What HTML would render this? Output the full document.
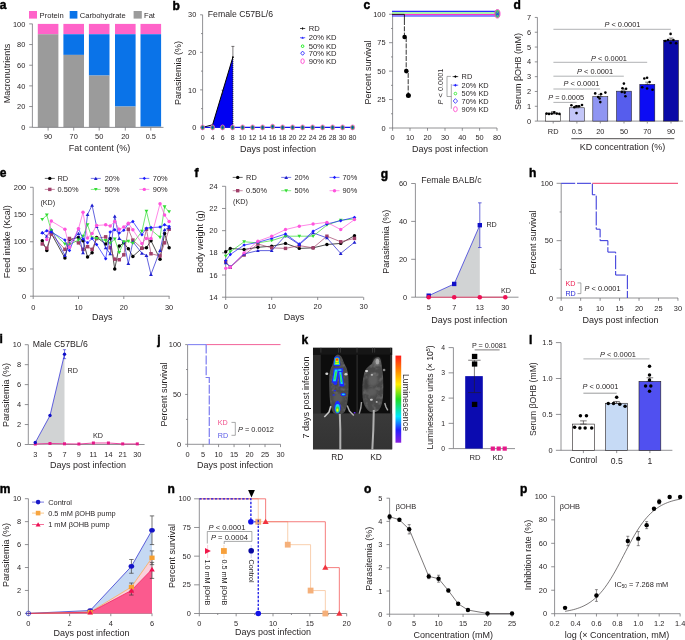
<!DOCTYPE html>
<html><head><meta charset="utf-8"><title>Figure</title>
<style>
html,body{margin:0;padding:0;background:#fff;}
svg{display:block;font-family:"Liberation Sans",sans-serif;will-change:transform;}
</style></head>
<body>
<svg width="685" height="640" viewBox="0 0 685 640">
<rect width="685" height="640" fill="#fff"/>
<g fill="#231f20">
<text x="-0.2" y="9.3" font-size="12.0" font-weight="bold" fill="#000" stroke="#000" stroke-width="0.45">a</text>
<rect x="29" y="11" width="8" height="7.6" fill="#ff63c9" stroke="none" stroke-width="0.6"/>
<text x="39.6" y="17.5" font-size="7.6" text-anchor="start">Protein</text>
<rect x="69.7" y="11" width="7.7" height="7.6" fill="#0a73e8" stroke="none" stroke-width="0.6"/>
<text x="79.7" y="17.5" font-size="7.6" text-anchor="start">Carbohydrate</text>
<rect x="133.6" y="11" width="8.2" height="7.6" fill="#9b9b9b" stroke="none" stroke-width="0.6"/>
<text x="144" y="17.5" font-size="7.6" text-anchor="start">Fat</text>
<rect x="37.8" y="23.9" width="20.6" height="10.33" fill="#ff63c9" stroke="none" stroke-width="0.6"/>
<rect x="37.8" y="34.23" width="20.6" height="0" fill="#0a73e8" stroke="none" stroke-width="0.6"/>
<rect x="37.8" y="34.23" width="20.6" height="92.97" fill="#9b9b9b" stroke="none" stroke-width="0.6"/>
<rect x="63.4" y="23.9" width="20.6" height="10.33" fill="#ff63c9" stroke="none" stroke-width="0.6"/>
<rect x="63.4" y="34.23" width="20.6" height="20.66" fill="#0a73e8" stroke="none" stroke-width="0.6"/>
<rect x="63.4" y="54.89" width="20.6" height="72.31" fill="#9b9b9b" stroke="none" stroke-width="0.6"/>
<rect x="88.9" y="23.9" width="20.6" height="10.33" fill="#ff63c9" stroke="none" stroke-width="0.6"/>
<rect x="88.9" y="34.23" width="20.6" height="41.32" fill="#0a73e8" stroke="none" stroke-width="0.6"/>
<rect x="88.9" y="75.55" width="20.6" height="51.65" fill="#9b9b9b" stroke="none" stroke-width="0.6"/>
<rect x="115" y="23.9" width="20.6" height="10.33" fill="#ff63c9" stroke="none" stroke-width="0.6"/>
<rect x="115" y="34.23" width="20.6" height="72.31" fill="#0a73e8" stroke="none" stroke-width="0.6"/>
<rect x="115" y="106.54" width="20.6" height="20.66" fill="#9b9b9b" stroke="none" stroke-width="0.6"/>
<rect x="140.5" y="23.9" width="20.6" height="10.33" fill="#ff63c9" stroke="none" stroke-width="0.6"/>
<rect x="140.5" y="34.23" width="20.6" height="92.45" fill="#0a73e8" stroke="none" stroke-width="0.6"/>
<rect x="140.5" y="126.68" width="20.6" height="0.52" fill="#9b9b9b" stroke="none" stroke-width="0.6"/>
<line x1="32.4" y1="23.8" x2="32.4" y2="127.4" stroke="#6d6e71" stroke-width="0.75"/>
<line x1="29.2" y1="127.2" x2="32.4" y2="127.2" stroke="#6d6e71" stroke-width="0.75"/>
<text x="25.3" y="129.83" font-size="7.4" text-anchor="end">0</text>
<line x1="29.2" y1="106.54" x2="32.4" y2="106.54" stroke="#6d6e71" stroke-width="0.75"/>
<text x="25.3" y="109.17" font-size="7.4" text-anchor="end">20</text>
<line x1="29.2" y1="85.88" x2="32.4" y2="85.88" stroke="#6d6e71" stroke-width="0.75"/>
<text x="25.3" y="88.51" font-size="7.4" text-anchor="end">40</text>
<line x1="29.2" y1="65.22" x2="32.4" y2="65.22" stroke="#6d6e71" stroke-width="0.75"/>
<text x="25.3" y="67.85" font-size="7.4" text-anchor="end">60</text>
<line x1="29.2" y1="44.56" x2="32.4" y2="44.56" stroke="#6d6e71" stroke-width="0.75"/>
<text x="25.3" y="47.19" font-size="7.4" text-anchor="end">80</text>
<line x1="29.2" y1="23.9" x2="32.4" y2="23.9" stroke="#6d6e71" stroke-width="0.75"/>
<text x="25.3" y="26.53" font-size="7.4" text-anchor="end">100</text>
<line x1="32.4" y1="127.4" x2="163.5" y2="127.4" stroke="#6d6e71" stroke-width="0.75"/>
<text x="48.1" y="139.33" font-size="7.4" text-anchor="middle">90</text>
<line x1="48.1" y1="127.4" x2="48.1" y2="130.6" stroke="#6d6e71" stroke-width="0.75"/>
<text x="73.7" y="139.33" font-size="7.4" text-anchor="middle">70</text>
<line x1="73.7" y1="127.4" x2="73.7" y2="130.6" stroke="#6d6e71" stroke-width="0.75"/>
<text x="99.2" y="139.33" font-size="7.4" text-anchor="middle">50</text>
<line x1="99.2" y1="127.4" x2="99.2" y2="130.6" stroke="#6d6e71" stroke-width="0.75"/>
<text x="125.3" y="139.33" font-size="7.4" text-anchor="middle">20</text>
<line x1="125.3" y1="127.4" x2="125.3" y2="130.6" stroke="#6d6e71" stroke-width="0.75"/>
<text x="150.8" y="139.33" font-size="7.4" text-anchor="middle">0.5</text>
<line x1="150.8" y1="127.4" x2="150.8" y2="130.6" stroke="#6d6e71" stroke-width="0.75"/>
<text x="99.6" y="151.19" font-size="9" text-anchor="middle">Fat content (%)</text>
<text transform="translate(6.4 73.5) rotate(-90)" x="0" y="3.19" font-size="9" text-anchor="middle">Macronutrients</text>
<text x="172.5" y="9.5" font-size="12.0" font-weight="bold" fill="#000" stroke="#000" stroke-width="0.45">b</text>
<polygon points="212.6,124.8 232.9,57.1 232.9,127.4 212.6,127.4" fill="#0000f2" stroke="none" stroke-width="0.5"/>
<polyline points="202.6,127.4 212.6,124.8 232.9,57.1" fill="none" stroke="#000" stroke-width="1.0"/>
<line x1="232.9" y1="57.1" x2="232.9" y2="127.4" stroke="#000" stroke-width="0.9" stroke-dasharray="1.1,0.9"/>
<line x1="232.9" y1="46.4" x2="232.9" y2="57.1" stroke="#231f20" stroke-width="0.6"/>
<line x1="231.4" y1="46.4" x2="234.4" y2="46.4" stroke="#231f20" stroke-width="0.6"/>
<line x1="222.6" y1="90.2" x2="222.6" y2="94.6" stroke="#231f20" stroke-width="0.6"/>
<line x1="221.6" y1="90.2" x2="223.6" y2="90.2" stroke="#231f20" stroke-width="0.6"/>
<circle cx="232.9" cy="57.1" r="0.9" fill="#000" stroke="none" stroke-width="0.6"/>
<line x1="202.6" y1="14.81" x2="202.6" y2="127.4" stroke="#6d6e71" stroke-width="0.75"/>
<line x1="200.1" y1="127.4" x2="202.6" y2="127.4" stroke="#6d6e71" stroke-width="0.75"/>
<text x="196.3" y="130.03" font-size="7.4" text-anchor="end">0</text>
<line x1="200.1" y1="89.87" x2="202.6" y2="89.87" stroke="#6d6e71" stroke-width="0.75"/>
<text x="196.3" y="92.5" font-size="7.4" text-anchor="end">10</text>
<line x1="200.1" y1="52.34" x2="202.6" y2="52.34" stroke="#6d6e71" stroke-width="0.75"/>
<text x="196.3" y="54.97" font-size="7.4" text-anchor="end">20</text>
<line x1="200.1" y1="14.81" x2="202.6" y2="14.81" stroke="#6d6e71" stroke-width="0.75"/>
<text x="196.3" y="17.44" font-size="7.4" text-anchor="end">30</text>
<line x1="201" y1="108.64" x2="202.6" y2="108.64" stroke="#6d6e71" stroke-width="0.75"/>
<line x1="201" y1="71.11" x2="202.6" y2="71.11" stroke="#6d6e71" stroke-width="0.75"/>
<line x1="201" y1="33.58" x2="202.6" y2="33.58" stroke="#6d6e71" stroke-width="0.75"/>
<line x1="202.6" y1="127.4" x2="354" y2="127.4" stroke="#1414e8" stroke-width="1.3"/>
<ellipse cx="202.6" cy="127.4" rx="2.0" ry="2.5" fill="#22d822" stroke="#ff44dd" stroke-width="0.8"/>
<polygon points="201.6,127.4 202.6,125.8 203.6,127.4 202.6,129" fill="#1414e8"/>
<text x="202.6" y="139.89" font-size="7" text-anchor="middle">0</text>
<ellipse cx="212.6" cy="127.4" rx="2.0" ry="2.5" fill="#22d822" stroke="#ff44dd" stroke-width="0.8"/>
<polygon points="211.6,127.4 212.6,125.8 213.6,127.4 212.6,129" fill="#1414e8"/>
<text x="212.6" y="139.89" font-size="7" text-anchor="middle">4</text>
<ellipse cx="222.6" cy="127.4" rx="2.0" ry="2.5" fill="#22d822" stroke="#ff44dd" stroke-width="0.8"/>
<polygon points="221.6,127.4 222.6,125.8 223.6,127.4 222.6,129" fill="#1414e8"/>
<text x="222.6" y="139.89" font-size="7" text-anchor="middle">6</text>
<ellipse cx="232.6" cy="127.4" rx="2.0" ry="2.5" fill="#22d822" stroke="#ff44dd" stroke-width="0.8"/>
<polygon points="231.6,127.4 232.6,125.8 233.6,127.4 232.6,129" fill="#1414e8"/>
<text x="232.6" y="139.89" font-size="7" text-anchor="middle">8</text>
<ellipse cx="242.6" cy="127.4" rx="2.0" ry="2.5" fill="#22d822" stroke="#ff44dd" stroke-width="0.8"/>
<polygon points="241.6,127.4 242.6,125.8 243.6,127.4 242.6,129" fill="#1414e8"/>
<text x="242.6" y="139.89" font-size="7" text-anchor="middle">10</text>
<ellipse cx="252.6" cy="127.4" rx="2.0" ry="2.5" fill="#22d822" stroke="#ff44dd" stroke-width="0.8"/>
<polygon points="251.6,127.4 252.6,125.8 253.6,127.4 252.6,129" fill="#1414e8"/>
<text x="252.6" y="139.89" font-size="7" text-anchor="middle">12</text>
<ellipse cx="262.6" cy="127.4" rx="2.0" ry="2.5" fill="#22d822" stroke="#ff44dd" stroke-width="0.8"/>
<polygon points="261.6,127.4 262.6,125.8 263.6,127.4 262.6,129" fill="#1414e8"/>
<text x="262.6" y="139.89" font-size="7" text-anchor="middle">14</text>
<ellipse cx="272.6" cy="126.7" rx="2.0" ry="2.5" fill="#22d822" stroke="#ff44dd" stroke-width="0.8"/>
<polygon points="271.6,126.7 272.6,125.1 273.6,126.7 272.6,128.3" fill="#1414e8"/>
<text x="272.6" y="139.89" font-size="7" text-anchor="middle">16</text>
<ellipse cx="282.6" cy="127.4" rx="2.0" ry="2.5" fill="#22d822" stroke="#ff44dd" stroke-width="0.8"/>
<polygon points="281.6,127.4 282.6,125.8 283.6,127.4 282.6,129" fill="#1414e8"/>
<text x="282.6" y="139.89" font-size="7" text-anchor="middle">18</text>
<ellipse cx="292.6" cy="127.4" rx="2.0" ry="2.5" fill="#22d822" stroke="#ff44dd" stroke-width="0.8"/>
<polygon points="291.6,127.4 292.6,125.8 293.6,127.4 292.6,129" fill="#1414e8"/>
<text x="292.6" y="139.89" font-size="7" text-anchor="middle">20</text>
<ellipse cx="302.6" cy="127.4" rx="2.0" ry="2.5" fill="#22d822" stroke="#ff44dd" stroke-width="0.8"/>
<polygon points="301.6,127.4 302.6,125.8 303.6,127.4 302.6,129" fill="#1414e8"/>
<text x="302.6" y="139.89" font-size="7" text-anchor="middle">22</text>
<ellipse cx="312.6" cy="127.4" rx="2.0" ry="2.5" fill="#22d822" stroke="#ff44dd" stroke-width="0.8"/>
<polygon points="311.6,127.4 312.6,125.8 313.6,127.4 312.6,129" fill="#1414e8"/>
<text x="312.6" y="139.89" font-size="7" text-anchor="middle">24</text>
<ellipse cx="322.6" cy="127.4" rx="2.0" ry="2.5" fill="#22d822" stroke="#ff44dd" stroke-width="0.8"/>
<polygon points="321.6,127.4 322.6,125.8 323.6,127.4 322.6,129" fill="#1414e8"/>
<text x="322.6" y="139.89" font-size="7" text-anchor="middle">26</text>
<ellipse cx="332.6" cy="127.4" rx="2.0" ry="2.5" fill="#22d822" stroke="#ff44dd" stroke-width="0.8"/>
<polygon points="331.6,127.4 332.6,125.8 333.6,127.4 332.6,129" fill="#1414e8"/>
<text x="332.6" y="139.89" font-size="7" text-anchor="middle">28</text>
<ellipse cx="342.6" cy="127.4" rx="2.0" ry="2.5" fill="#22d822" stroke="#ff44dd" stroke-width="0.8"/>
<polygon points="341.6,127.4 342.6,125.8 343.6,127.4 342.6,129" fill="#1414e8"/>
<text x="342.6" y="139.89" font-size="7" text-anchor="middle">30</text>
<ellipse cx="352.6" cy="127.4" rx="2.0" ry="2.5" fill="#22d822" stroke="#ff44dd" stroke-width="0.8"/>
<polygon points="351.6,127.4 352.6,125.8 353.6,127.4 352.6,129" fill="#1414e8"/>
<text x="352.6" y="139.89" font-size="7" text-anchor="middle">80</text>
<text x="207.8" y="16.59" font-size="8.7" text-anchor="start">Female C57BL/6</text>
<line x1="300" y1="28.5" x2="305.2" y2="28.5" stroke="#000" stroke-width="0.7"/>
<line x1="302.6" y1="27.3" x2="302.6" y2="29.7" stroke="#000" stroke-width="0.9"/>
<line x1="300" y1="37.7" x2="305.2" y2="37.7" stroke="#22f" stroke-width="0.7"/>
<polygon points="301.4,38.66 303.8,38.66 302.6,36.62" fill="#22f" stroke="none" stroke-width="0.5"/>
<circle cx="302.6" cy="46.2" r="1.3" fill="none" stroke="#22ee22" stroke-width="1.0"/>
<polygon points="300.70000000000005,53.2 302.6,51.1 304.5,53.2 302.6,55.300000000000004" fill="none" stroke="#2a2aff" stroke-width="0.9"/>
<ellipse cx="302.6" cy="61.2" rx="1.7" ry="2.4" fill="none" stroke="#ff33cc" stroke-width="0.8"/>
<text x="308.7" y="31.2" font-size="7.6" text-anchor="start">RD</text>
<text x="308.7" y="40.4" font-size="7.6" text-anchor="start">20% KD</text>
<text x="308.7" y="48.9" font-size="7.6" text-anchor="start">50% KD</text>
<text x="308.7" y="55.9" font-size="7.6" text-anchor="start">70% KD</text>
<text x="308.7" y="63.9" font-size="7.6" text-anchor="start">90% KD</text>
<text x="278" y="151.79" font-size="9" text-anchor="middle">Days post infection</text>
<text transform="translate(178 73) rotate(-90)" x="0" y="3.19" font-size="9" text-anchor="middle">Parasitemia (%)</text>
<text x="363.6" y="9" font-size="12.0" font-weight="bold" fill="#000" stroke="#000" stroke-width="0.45">c</text>
<line x1="392.6" y1="14.25" x2="392.6" y2="128" stroke="#6d6e71" stroke-width="0.75"/>
<line x1="389" y1="128" x2="392.6" y2="128" stroke="#6d6e71" stroke-width="0.75"/>
<text x="385.5" y="130.63" font-size="7.4" text-anchor="end">0</text>
<line x1="389" y1="99.56" x2="392.6" y2="99.56" stroke="#6d6e71" stroke-width="0.75"/>
<text x="385.5" y="102.19" font-size="7.4" text-anchor="end">25</text>
<line x1="389" y1="71.12" x2="392.6" y2="71.12" stroke="#6d6e71" stroke-width="0.75"/>
<text x="385.5" y="73.75" font-size="7.4" text-anchor="end">50</text>
<line x1="389" y1="42.69" x2="392.6" y2="42.69" stroke="#6d6e71" stroke-width="0.75"/>
<text x="385.5" y="45.31" font-size="7.4" text-anchor="end">75</text>
<line x1="389" y1="14.25" x2="392.6" y2="14.25" stroke="#6d6e71" stroke-width="0.75"/>
<text x="385.5" y="16.88" font-size="7.4" text-anchor="end">100</text>
<line x1="391" y1="113.78" x2="392.6" y2="113.78" stroke="#6d6e71" stroke-width="0.75"/>
<line x1="391" y1="85.34" x2="392.6" y2="85.34" stroke="#6d6e71" stroke-width="0.75"/>
<line x1="391" y1="56.91" x2="392.6" y2="56.91" stroke="#6d6e71" stroke-width="0.75"/>
<line x1="391" y1="28.47" x2="392.6" y2="28.47" stroke="#6d6e71" stroke-width="0.75"/>
<line x1="392.6" y1="128" x2="497" y2="128" stroke="#6d6e71" stroke-width="0.75"/>
<line x1="392.6" y1="128" x2="392.6" y2="130.8" stroke="#6d6e71" stroke-width="0.75"/>
<text x="392.6" y="139.53" font-size="7.4" text-anchor="middle">0</text>
<line x1="410" y1="128" x2="410" y2="130.8" stroke="#6d6e71" stroke-width="0.75"/>
<text x="410" y="139.53" font-size="7.4" text-anchor="middle">10</text>
<line x1="427.5" y1="128" x2="427.5" y2="130.8" stroke="#6d6e71" stroke-width="0.75"/>
<text x="427.5" y="139.53" font-size="7.4" text-anchor="middle">20</text>
<line x1="445" y1="128" x2="445" y2="130.8" stroke="#6d6e71" stroke-width="0.75"/>
<text x="445" y="139.53" font-size="7.4" text-anchor="middle">30</text>
<line x1="462.3" y1="128" x2="462.3" y2="130.8" stroke="#6d6e71" stroke-width="0.75"/>
<text x="462.3" y="139.53" font-size="7.4" text-anchor="middle">40</text>
<line x1="479.6" y1="128" x2="479.6" y2="130.8" stroke="#6d6e71" stroke-width="0.75"/>
<text x="479.6" y="139.53" font-size="7.4" text-anchor="middle">50</text>
<line x1="497" y1="128" x2="497" y2="130.8" stroke="#6d6e71" stroke-width="0.75"/>
<text x="497" y="139.53" font-size="7.4" text-anchor="middle">80</text>
<line x1="392" y1="11.4" x2="497" y2="11.4" stroke="#2a2aff" stroke-width="1.1"/>
<line x1="392" y1="13" x2="497" y2="13" stroke="#55ee55" stroke-width="1.1"/>
<line x1="392" y1="14.6" x2="497" y2="14.6" stroke="#ff33cc" stroke-width="1.1"/>
<line x1="392" y1="16" x2="497" y2="16" stroke="#2a2aff" stroke-width="1.1"/>
<line x1="392" y1="14.4" x2="404.4" y2="14.4" stroke="#000" stroke-width="0.8"/>
<ellipse cx="497.4" cy="13.8" rx="2.6" ry="4.2" fill="#55ee55" stroke="#ff33cc" stroke-width="0.9"/>
<ellipse cx="497.4" cy="13.8" rx="1.3" ry="2.6" fill="none" stroke="#2a2aff" stroke-width="0.7"/>
<polygon points="496.1,14.84 498.7,14.84 497.4,12.63" fill="#22f" stroke="none" stroke-width="0.5"/>
<line x1="404.4" y1="14.4" x2="404.4" y2="20" stroke="#000" stroke-width="0.8"/>
<polyline points="404.4,20 404.4,37 406.2,37 406.2,71.12 408.2,71.12 408.2,96.15" fill="none" stroke="#000" stroke-width="0.8" stroke-dasharray="5,1.3"/>
<circle cx="404.6" cy="37" r="2.3" fill="#000" stroke="none" stroke-width="0.6"/>
<circle cx="406.3" cy="71.12" r="2.3" fill="#000" stroke="none" stroke-width="0.6"/>
<circle cx="408.4" cy="95.58" r="2.5" fill="#000" stroke="none" stroke-width="0.6"/>
<line x1="447" y1="76.4" x2="447" y2="96.5" stroke="#6d6e71" stroke-width="0.6"/>
<line x1="447" y1="76.4" x2="450.9" y2="76.4" stroke="#6d6e71" stroke-width="0.6"/>
<line x1="447" y1="96.5" x2="451.3" y2="96.5" stroke="#6d6e71" stroke-width="0.6"/>
<line x1="451.3" y1="84.1" x2="451.3" y2="108.8" stroke="#6d6e71" stroke-width="0.6"/>
<text transform="translate(440.5 86.5) rotate(-90)" x="0" y="2.63" font-size="7.4" text-anchor="middle"><tspan font-style="italic">P</tspan> &lt; 0.0001</text>
<line x1="452.6" y1="76.6" x2="458.2" y2="76.6" stroke="#000" stroke-width="0.7"/>
<polygon points="454.0,76.6 455.4,75.19999999999999 456.79999999999995,76.6 455.4,78.0" fill="#000"/>
<line x1="452.6" y1="85.2" x2="458.2" y2="85.2" stroke="#22f" stroke-width="0.7"/>
<polygon points="454.0,85.2 455.4,83.7 456.79999999999995,85.2 455.4,86.7" fill="#22f"/>
<circle cx="455.4" cy="93.6" r="1.3" fill="none" stroke="#44ee44" stroke-width="1.0"/>
<polygon points="453.2,101.0 455.4,98.6 457.59999999999997,101.0 455.4,103.4" fill="none" stroke="#2a2aff" stroke-width="0.8"/>
<ellipse cx="455.4" cy="109.2" rx="1.9" ry="2.5" fill="none" stroke="#ff44cc" stroke-width="0.8"/>
<text x="461.6" y="79.23" font-size="7.4" text-anchor="start">RD</text>
<text x="461.6" y="87.83" font-size="7.4" text-anchor="start">20% KD</text>
<text x="461.6" y="96.23" font-size="7.4" text-anchor="start">50% KD</text>
<text x="461.6" y="103.63" font-size="7.4" text-anchor="start">70% KD</text>
<text x="461.6" y="111.83" font-size="7.4" text-anchor="start">90% KD</text>
<text x="450" y="152" font-size="9" text-anchor="middle">Days post infection</text>
<text transform="translate(367.6 72.5) rotate(-90)" x="0" y="3.19" font-size="9" text-anchor="middle">Percent survival</text>
<text x="513.6" y="9" font-size="12.0" font-weight="bold" fill="#000" stroke="#000" stroke-width="0.45">d</text>
<line x1="537.4" y1="17.43" x2="537.4" y2="121.1" stroke="#6d6e71" stroke-width="0.75"/>
<line x1="534.8" y1="121.1" x2="537.4" y2="121.1" stroke="#6d6e71" stroke-width="0.75"/>
<text x="531.1" y="123.73" font-size="7.4" text-anchor="end">0</text>
<line x1="534.8" y1="106.29" x2="537.4" y2="106.29" stroke="#6d6e71" stroke-width="0.75"/>
<text x="531.1" y="108.92" font-size="7.4" text-anchor="end">1</text>
<line x1="534.8" y1="91.48" x2="537.4" y2="91.48" stroke="#6d6e71" stroke-width="0.75"/>
<text x="531.1" y="94.11" font-size="7.4" text-anchor="end">2</text>
<line x1="534.8" y1="76.67" x2="537.4" y2="76.67" stroke="#6d6e71" stroke-width="0.75"/>
<text x="531.1" y="79.3" font-size="7.4" text-anchor="end">3</text>
<line x1="534.8" y1="61.86" x2="537.4" y2="61.86" stroke="#6d6e71" stroke-width="0.75"/>
<text x="531.1" y="64.49" font-size="7.4" text-anchor="end">4</text>
<line x1="534.8" y1="47.05" x2="537.4" y2="47.05" stroke="#6d6e71" stroke-width="0.75"/>
<text x="531.1" y="49.68" font-size="7.4" text-anchor="end">5</text>
<line x1="534.8" y1="32.24" x2="537.4" y2="32.24" stroke="#6d6e71" stroke-width="0.75"/>
<text x="531.1" y="34.87" font-size="7.4" text-anchor="end">6</text>
<line x1="534.8" y1="17.43" x2="537.4" y2="17.43" stroke="#6d6e71" stroke-width="0.75"/>
<text x="531.1" y="20.06" font-size="7.4" text-anchor="end">7</text>
<line x1="537.4" y1="121.1" x2="683" y2="121.1" stroke="#6d6e71" stroke-width="0.75"/>
<rect x="545.7" y="113.84" width="15" height="7.26" fill="#ffffff" stroke="#231f20" stroke-width="0.55"/>
<line x1="553.2" y1="111.64" x2="553.2" y2="113.84" stroke="#231f20" stroke-width="0.55"/>
<line x1="551" y1="111.64" x2="555.4" y2="111.64" stroke="#231f20" stroke-width="0.55"/>
<line x1="551" y1="113.84" x2="555.4" y2="113.84" stroke="#231f20" stroke-width="0.55"/>
<circle cx="546.6" cy="113.6" r="1.3" fill="#000" stroke="none" stroke-width="0.6"/>
<circle cx="549" cy="113.9" r="1.3" fill="#000" stroke="none" stroke-width="0.6"/>
<circle cx="551.7" cy="113.6" r="1.3" fill="#000" stroke="none" stroke-width="0.6"/>
<circle cx="554.3" cy="112.4" r="1.3" fill="#000" stroke="none" stroke-width="0.6"/>
<circle cx="556.8" cy="113.6" r="1.3" fill="#000" stroke="none" stroke-width="0.6"/>
<circle cx="559.4" cy="113.9" r="1.3" fill="#000" stroke="none" stroke-width="0.6"/>
<rect x="569.4" y="107.77" width="15" height="13.33" fill="#c3c6f8" stroke="#231f20" stroke-width="0.55"/>
<line x1="576.9" y1="105.57" x2="576.9" y2="107.77" stroke="#231f20" stroke-width="0.55"/>
<line x1="574.7" y1="105.57" x2="579.1" y2="105.57" stroke="#231f20" stroke-width="0.55"/>
<line x1="574.7" y1="107.77" x2="579.1" y2="107.77" stroke="#231f20" stroke-width="0.55"/>
<circle cx="571.4" cy="105.3" r="1.3" fill="#000" stroke="none" stroke-width="0.6"/>
<circle cx="574.3" cy="107.2" r="1.3" fill="#000" stroke="none" stroke-width="0.6"/>
<circle cx="576.5" cy="106.2" r="1.3" fill="#000" stroke="none" stroke-width="0.6"/>
<circle cx="579.1" cy="106.2" r="1.3" fill="#000" stroke="none" stroke-width="0.6"/>
<circle cx="582" cy="105" r="1.3" fill="#000" stroke="none" stroke-width="0.6"/>
<circle cx="576.5" cy="113.1" r="1.3" fill="#000" stroke="none" stroke-width="0.6"/>
<rect x="592.8" y="96.66" width="15" height="24.44" fill="#8f95f2" stroke="#231f20" stroke-width="0.55"/>
<line x1="600.3" y1="94.46" x2="600.3" y2="96.66" stroke="#231f20" stroke-width="0.55"/>
<line x1="598.1" y1="94.46" x2="602.5" y2="94.46" stroke="#231f20" stroke-width="0.55"/>
<line x1="598.1" y1="96.66" x2="602.5" y2="96.66" stroke="#231f20" stroke-width="0.55"/>
<circle cx="595.2" cy="93.4" r="1.3" fill="#000" stroke="none" stroke-width="0.6"/>
<circle cx="598.1" cy="97" r="1.3" fill="#000" stroke="none" stroke-width="0.6"/>
<circle cx="601" cy="94.1" r="1.3" fill="#000" stroke="none" stroke-width="0.6"/>
<circle cx="605.4" cy="92.6" r="1.3" fill="#000" stroke="none" stroke-width="0.6"/>
<circle cx="599.6" cy="98.5" r="1.3" fill="#000" stroke="none" stroke-width="0.6"/>
<circle cx="600.3" cy="102.1" r="1.3" fill="#000" stroke="none" stroke-width="0.6"/>
<rect x="616.5" y="91.18" width="15" height="29.92" fill="#565ded" stroke="#231f20" stroke-width="0.55"/>
<line x1="624" y1="88.98" x2="624" y2="91.18" stroke="#231f20" stroke-width="0.55"/>
<line x1="621.8" y1="88.98" x2="626.2" y2="88.98" stroke="#231f20" stroke-width="0.55"/>
<line x1="621.8" y1="91.18" x2="626.2" y2="91.18" stroke="#231f20" stroke-width="0.55"/>
<circle cx="623.9" cy="83.6" r="1.3" fill="#000" stroke="none" stroke-width="0.6"/>
<circle cx="622.5" cy="88.2" r="1.3" fill="#000" stroke="none" stroke-width="0.6"/>
<circle cx="626.1" cy="88.7" r="1.3" fill="#000" stroke="none" stroke-width="0.6"/>
<circle cx="621.8" cy="91.9" r="1.3" fill="#000" stroke="none" stroke-width="0.6"/>
<circle cx="624.7" cy="92.6" r="1.3" fill="#000" stroke="none" stroke-width="0.6"/>
<circle cx="625.4" cy="96.3" r="1.3" fill="#000" stroke="none" stroke-width="0.6"/>
<rect x="639.8" y="84.37" width="15" height="36.73" fill="#0c0cf4" stroke="#231f20" stroke-width="0.55"/>
<line x1="647.3" y1="82.17" x2="647.3" y2="84.37" stroke="#231f20" stroke-width="0.55"/>
<line x1="645.1" y1="82.17" x2="649.5" y2="82.17" stroke="#231f20" stroke-width="0.55"/>
<line x1="645.1" y1="84.37" x2="649.5" y2="84.37" stroke="#231f20" stroke-width="0.55"/>
<circle cx="644.3" cy="78.5" r="1.3" fill="#000" stroke="none" stroke-width="0.6"/>
<circle cx="647.1" cy="77.7" r="1.3" fill="#000" stroke="none" stroke-width="0.6"/>
<circle cx="649.6" cy="82" r="1.3" fill="#000" stroke="none" stroke-width="0.6"/>
<circle cx="642.2" cy="87.2" r="1.3" fill="#000" stroke="none" stroke-width="0.6"/>
<circle cx="647.1" cy="88.5" r="1.3" fill="#000" stroke="none" stroke-width="0.6"/>
<circle cx="652.5" cy="89.7" r="1.3" fill="#000" stroke="none" stroke-width="0.6"/>
<rect x="663.5" y="40.24" width="15" height="80.86" fill="#0a0aa6" stroke="#231f20" stroke-width="0.55"/>
<line x1="671" y1="38.04" x2="671" y2="40.24" stroke="#231f20" stroke-width="0.55"/>
<line x1="668.8" y1="38.04" x2="673.2" y2="38.04" stroke="#231f20" stroke-width="0.55"/>
<line x1="668.8" y1="40.24" x2="673.2" y2="40.24" stroke="#231f20" stroke-width="0.55"/>
<circle cx="670.6" cy="33.9" r="1.3" fill="#000" stroke="none" stroke-width="0.6"/>
<circle cx="665.2" cy="41" r="1.3" fill="#000" stroke="none" stroke-width="0.6"/>
<circle cx="668" cy="40" r="1.3" fill="#000" stroke="none" stroke-width="0.6"/>
<circle cx="670.6" cy="43" r="1.3" fill="#000" stroke="none" stroke-width="0.6"/>
<circle cx="673.4" cy="40" r="1.3" fill="#000" stroke="none" stroke-width="0.6"/>
<circle cx="676.1" cy="43.3" r="1.3" fill="#000" stroke="none" stroke-width="0.6"/>
<text x="553.2" y="134.23" font-size="7.4" text-anchor="middle">RD</text>
<line x1="553.2" y1="121.1" x2="553.2" y2="123.5" stroke="#6d6e71" stroke-width="0.75"/>
<text x="576.9" y="134.23" font-size="7.4" text-anchor="middle">0.5</text>
<line x1="576.9" y1="121.1" x2="576.9" y2="123.5" stroke="#6d6e71" stroke-width="0.75"/>
<text x="600.3" y="134.23" font-size="7.4" text-anchor="middle">20</text>
<line x1="600.3" y1="121.1" x2="600.3" y2="123.5" stroke="#6d6e71" stroke-width="0.75"/>
<text x="624" y="134.23" font-size="7.4" text-anchor="middle">50</text>
<line x1="624" y1="121.1" x2="624" y2="123.5" stroke="#6d6e71" stroke-width="0.75"/>
<text x="647.3" y="134.23" font-size="7.4" text-anchor="middle">70</text>
<line x1="647.3" y1="121.1" x2="647.3" y2="123.5" stroke="#6d6e71" stroke-width="0.75"/>
<text x="671" y="134.23" font-size="7.4" text-anchor="middle">90</text>
<line x1="671" y1="121.1" x2="671" y2="123.5" stroke="#6d6e71" stroke-width="0.75"/>
<line x1="571.3" y1="138.7" x2="674.3" y2="138.7" stroke="#231f20" stroke-width="0.8"/>
<text x="622.4" y="149.59" font-size="9" text-anchor="middle">KD concentration (%)</text>
<text transform="translate(517.7 71.5) rotate(-90)" x="0" y="3.19" font-size="9" text-anchor="middle">Serum βOHB (mM)</text>
<line x1="553.4" y1="29.3" x2="670.8" y2="29.3" stroke="#a7a9ac" stroke-width="0.9"/>
<text x="622.4" y="27.43" font-size="7.4" text-anchor="middle"><tspan font-style="italic">P</tspan> &lt; 0.0001</text>
<line x1="553.4" y1="62.3" x2="647.2" y2="62.3" stroke="#a7a9ac" stroke-width="0.9"/>
<text x="609" y="60.93" font-size="7.4" text-anchor="middle"><tspan font-style="italic">P</tspan> &lt; 0.0001</text>
<line x1="553.4" y1="76.2" x2="623.8" y2="76.2" stroke="#a7a9ac" stroke-width="0.9"/>
<text x="595.1" y="74.13" font-size="7.4" text-anchor="middle"><tspan font-style="italic">P</tspan> &lt; 0.0001</text>
<line x1="553.4" y1="89" x2="600.1" y2="89" stroke="#a7a9ac" stroke-width="0.9"/>
<text x="581.5" y="86.43" font-size="7.4" text-anchor="middle"><tspan font-style="italic">P</tspan> &lt; 0.0001</text>
<line x1="553.4" y1="102.4" x2="576.6" y2="102.4" stroke="#a7a9ac" stroke-width="0.9"/>
<text x="566.2" y="99.93" font-size="7.4" text-anchor="middle"><tspan font-style="italic">P</tspan> = 0.0005</text>
<text x="-0.2" y="176.5" font-size="12.0" font-weight="bold" fill="#000" stroke="#000" stroke-width="0.45">e</text>
<line x1="33.2" y1="187.3" x2="33.2" y2="296.2" stroke="#6d6e71" stroke-width="0.75"/>
<line x1="30" y1="296.2" x2="33.2" y2="296.2" stroke="#6d6e71" stroke-width="0.75"/>
<text x="26.2" y="298.83" font-size="7.4" text-anchor="end">0</text>
<line x1="30" y1="268.97" x2="33.2" y2="268.97" stroke="#6d6e71" stroke-width="0.75"/>
<text x="26.2" y="271.6" font-size="7.4" text-anchor="end">50</text>
<line x1="30" y1="241.75" x2="33.2" y2="241.75" stroke="#6d6e71" stroke-width="0.75"/>
<text x="26.2" y="244.38" font-size="7.4" text-anchor="end">100</text>
<line x1="30" y1="214.52" x2="33.2" y2="214.52" stroke="#6d6e71" stroke-width="0.75"/>
<text x="26.2" y="217.15" font-size="7.4" text-anchor="end">150</text>
<line x1="30" y1="187.3" x2="33.2" y2="187.3" stroke="#6d6e71" stroke-width="0.75"/>
<text x="26.2" y="189.93" font-size="7.4" text-anchor="end">200</text>
<line x1="33.2" y1="296.2" x2="169.5" y2="296.2" stroke="#6d6e71" stroke-width="0.75"/>
<line x1="33.2" y1="296.2" x2="33.2" y2="299" stroke="#6d6e71" stroke-width="0.75"/>
<text x="33.2" y="309.53" font-size="7.4" text-anchor="middle">0</text>
<line x1="78.5" y1="296.2" x2="78.5" y2="299" stroke="#6d6e71" stroke-width="0.75"/>
<text x="78.5" y="309.53" font-size="7.4" text-anchor="middle">10</text>
<line x1="123.8" y1="296.2" x2="123.8" y2="299" stroke="#6d6e71" stroke-width="0.75"/>
<text x="123.8" y="309.53" font-size="7.4" text-anchor="middle">20</text>
<line x1="169.1" y1="296.2" x2="169.1" y2="299" stroke="#6d6e71" stroke-width="0.75"/>
<text x="169.1" y="309.53" font-size="7.4" text-anchor="middle">30</text>
<polyline points="42.26,240.66 46.79,250.46 51.32,233.58 64.91,258.08 69.44,239.57 78.5,237.39 83.03,240.66 87.56,257 92.09,252.64 96.62,237.39 105.68,243.93 110.21,238.48 114.74,268.97 119.27,246.11 123.8,242.84 128.33,248.83 132.86,256.45 141.92,248.28 146.45,247.74 150.98,240.66 160.04,259.17 164.57,233.58 169.1,247.74" fill="none" stroke="#000" stroke-width="0.7"/>
<circle cx="42.26" cy="240.66" r="1.75" fill="#000" stroke="none" stroke-width="0.6"/>
<circle cx="46.79" cy="250.46" r="1.75" fill="#000" stroke="none" stroke-width="0.6"/>
<circle cx="51.32" cy="233.58" r="1.75" fill="#000" stroke="none" stroke-width="0.6"/>
<circle cx="64.91" cy="258.08" r="1.75" fill="#000" stroke="none" stroke-width="0.6"/>
<circle cx="69.44" cy="239.57" r="1.75" fill="#000" stroke="none" stroke-width="0.6"/>
<circle cx="78.5" cy="237.39" r="1.75" fill="#000" stroke="none" stroke-width="0.6"/>
<circle cx="83.03" cy="240.66" r="1.75" fill="#000" stroke="none" stroke-width="0.6"/>
<circle cx="87.56" cy="257" r="1.75" fill="#000" stroke="none" stroke-width="0.6"/>
<circle cx="92.09" cy="252.64" r="1.75" fill="#000" stroke="none" stroke-width="0.6"/>
<circle cx="96.62" cy="237.39" r="1.75" fill="#000" stroke="none" stroke-width="0.6"/>
<circle cx="105.68" cy="243.93" r="1.75" fill="#000" stroke="none" stroke-width="0.6"/>
<circle cx="110.21" cy="238.48" r="1.75" fill="#000" stroke="none" stroke-width="0.6"/>
<circle cx="114.74" cy="268.97" r="1.75" fill="#000" stroke="none" stroke-width="0.6"/>
<circle cx="119.27" cy="246.11" r="1.75" fill="#000" stroke="none" stroke-width="0.6"/>
<circle cx="123.8" cy="242.84" r="1.75" fill="#000" stroke="none" stroke-width="0.6"/>
<circle cx="128.33" cy="248.83" r="1.75" fill="#000" stroke="none" stroke-width="0.6"/>
<circle cx="132.86" cy="256.45" r="1.75" fill="#000" stroke="none" stroke-width="0.6"/>
<circle cx="141.92" cy="248.28" r="1.75" fill="#000" stroke="none" stroke-width="0.6"/>
<circle cx="146.45" cy="247.74" r="1.75" fill="#000" stroke="none" stroke-width="0.6"/>
<circle cx="150.98" cy="240.66" r="1.75" fill="#000" stroke="none" stroke-width="0.6"/>
<circle cx="160.04" cy="259.17" r="1.75" fill="#000" stroke="none" stroke-width="0.6"/>
<circle cx="164.57" cy="233.58" r="1.75" fill="#000" stroke="none" stroke-width="0.6"/>
<circle cx="169.1" cy="247.74" r="1.75" fill="#000" stroke="none" stroke-width="0.6"/>
<polyline points="42.26,243.93 46.79,248.28 51.32,234.13 64.91,249.37 69.44,238.48 78.5,242.84 83.03,249.37 87.56,246.65 92.09,249.37 96.62,238.48 105.68,236.85 110.21,247.74 114.74,259.17 119.27,259.72 123.8,254.82 128.33,229.23 132.86,240.12 141.92,248.28 146.45,229.23 150.98,253.73 160.04,255.91 164.57,242.84 169.1,229.23" fill="none" stroke="#a0406a" stroke-width="0.7"/>
<rect x="40.51" y="242.18" width="3.5" height="3.5" fill="#a0406a" stroke="none" stroke-width="0.6"/>
<rect x="45.04" y="246.53" width="3.5" height="3.5" fill="#a0406a" stroke="none" stroke-width="0.6"/>
<rect x="49.57" y="232.38" width="3.5" height="3.5" fill="#a0406a" stroke="none" stroke-width="0.6"/>
<rect x="63.16" y="247.62" width="3.5" height="3.5" fill="#a0406a" stroke="none" stroke-width="0.6"/>
<rect x="67.69" y="236.73" width="3.5" height="3.5" fill="#a0406a" stroke="none" stroke-width="0.6"/>
<rect x="76.75" y="241.09" width="3.5" height="3.5" fill="#a0406a" stroke="none" stroke-width="0.6"/>
<rect x="81.28" y="247.62" width="3.5" height="3.5" fill="#a0406a" stroke="none" stroke-width="0.6"/>
<rect x="85.81" y="244.9" width="3.5" height="3.5" fill="#a0406a" stroke="none" stroke-width="0.6"/>
<rect x="90.34" y="247.62" width="3.5" height="3.5" fill="#a0406a" stroke="none" stroke-width="0.6"/>
<rect x="94.87" y="236.73" width="3.5" height="3.5" fill="#a0406a" stroke="none" stroke-width="0.6"/>
<rect x="103.93" y="235.1" width="3.5" height="3.5" fill="#a0406a" stroke="none" stroke-width="0.6"/>
<rect x="108.46" y="245.99" width="3.5" height="3.5" fill="#a0406a" stroke="none" stroke-width="0.6"/>
<rect x="112.99" y="257.42" width="3.5" height="3.5" fill="#a0406a" stroke="none" stroke-width="0.6"/>
<rect x="117.52" y="257.97" width="3.5" height="3.5" fill="#a0406a" stroke="none" stroke-width="0.6"/>
<rect x="122.05" y="253.07" width="3.5" height="3.5" fill="#a0406a" stroke="none" stroke-width="0.6"/>
<rect x="126.58" y="227.48" width="3.5" height="3.5" fill="#a0406a" stroke="none" stroke-width="0.6"/>
<rect x="131.11" y="238.37" width="3.5" height="3.5" fill="#a0406a" stroke="none" stroke-width="0.6"/>
<rect x="140.17" y="246.53" width="3.5" height="3.5" fill="#a0406a" stroke="none" stroke-width="0.6"/>
<rect x="144.7" y="227.48" width="3.5" height="3.5" fill="#a0406a" stroke="none" stroke-width="0.6"/>
<rect x="149.23" y="251.98" width="3.5" height="3.5" fill="#a0406a" stroke="none" stroke-width="0.6"/>
<rect x="158.29" y="254.16" width="3.5" height="3.5" fill="#a0406a" stroke="none" stroke-width="0.6"/>
<rect x="162.82" y="241.09" width="3.5" height="3.5" fill="#a0406a" stroke="none" stroke-width="0.6"/>
<rect x="167.35" y="227.48" width="3.5" height="3.5" fill="#a0406a" stroke="none" stroke-width="0.6"/>
<polyline points="42.26,232.49 46.79,236.31 51.32,229.77 64.91,255.36 69.44,243.38 78.5,233.58 83.03,252.64 87.56,214.52 92.09,205.27 96.62,226.5 105.68,247.74 110.21,253.73 114.74,216.16 119.27,238.48 123.8,241.75 128.33,263.53 132.86,241.75 141.92,253.18 146.45,255.36 150.98,274.42 160.04,250.46 164.57,229.77 169.1,227.59" fill="none" stroke="#2020d0" stroke-width="0.7"/>
<polygon points="40.34,234.03 44.19,234.03 42.26,230.76" fill="#2020d0" stroke="none" stroke-width="0.5"/>
<polygon points="44.87,237.84 48.72,237.84 46.79,234.57" fill="#2020d0" stroke="none" stroke-width="0.5"/>
<polygon points="49.4,231.31 53.25,231.31 51.32,228.04" fill="#2020d0" stroke="none" stroke-width="0.5"/>
<polygon points="62.98,256.9 66.83,256.9 64.91,253.63" fill="#2020d0" stroke="none" stroke-width="0.5"/>
<polygon points="67.52,244.92 71.36,244.92 69.44,241.65" fill="#2020d0" stroke="none" stroke-width="0.5"/>
<polygon points="76.58,235.12 80.42,235.12 78.5,231.85" fill="#2020d0" stroke="none" stroke-width="0.5"/>
<polygon points="81.11,254.18 84.95,254.18 83.03,250.91" fill="#2020d0" stroke="none" stroke-width="0.5"/>
<polygon points="85.64,216.06 89.48,216.06 87.56,212.79" fill="#2020d0" stroke="none" stroke-width="0.5"/>
<polygon points="90.17,206.81 94.02,206.81 92.09,203.54" fill="#2020d0" stroke="none" stroke-width="0.5"/>
<polygon points="94.7,228.04 98.55,228.04 96.62,224.77" fill="#2020d0" stroke="none" stroke-width="0.5"/>
<polygon points="103.76,249.28 107.61,249.28 105.68,246.01" fill="#2020d0" stroke="none" stroke-width="0.5"/>
<polygon points="108.29,255.27 112.14,255.27 110.21,252" fill="#2020d0" stroke="none" stroke-width="0.5"/>
<polygon points="112.82,217.7 116.67,217.7 114.74,214.43" fill="#2020d0" stroke="none" stroke-width="0.5"/>
<polygon points="117.35,240.02 121.2,240.02 119.27,236.75" fill="#2020d0" stroke="none" stroke-width="0.5"/>
<polygon points="121.88,243.29 125.73,243.29 123.8,240.02" fill="#2020d0" stroke="none" stroke-width="0.5"/>
<polygon points="126.41,265.07 130.26,265.07 128.33,261.8" fill="#2020d0" stroke="none" stroke-width="0.5"/>
<polygon points="130.94,243.29 134.79,243.29 132.86,240.02" fill="#2020d0" stroke="none" stroke-width="0.5"/>
<polygon points="140,254.72 143.85,254.72 141.92,251.45" fill="#2020d0" stroke="none" stroke-width="0.5"/>
<polygon points="144.52,256.9 148.38,256.9 146.45,253.63" fill="#2020d0" stroke="none" stroke-width="0.5"/>
<polygon points="149.06,275.96 152.91,275.96 150.98,272.69" fill="#2020d0" stroke="none" stroke-width="0.5"/>
<polygon points="158.12,252 161.97,252 160.04,248.73" fill="#2020d0" stroke="none" stroke-width="0.5"/>
<polygon points="162.64,231.31 166.5,231.31 164.57,228.04" fill="#2020d0" stroke="none" stroke-width="0.5"/>
<polygon points="167.18,229.13 171.03,229.13 169.1,225.86" fill="#2020d0" stroke="none" stroke-width="0.5"/>
<polyline points="42.26,219.43 46.79,215.07 51.32,230.86 64.91,243.93 69.44,244.47 78.5,240.12 83.03,236.31 87.56,224.87 92.09,237.94 96.62,238.48 105.68,240.66 110.21,243.38 114.74,239.03 119.27,252.64 123.8,241.75 128.33,241.21 132.86,243.38 141.92,231.4 146.45,211.26 150.98,229.77 160.04,237.39 164.57,206.9 169.1,211.8" fill="none" stroke="#33dd33" stroke-width="0.7"/>
<polygon points="40.34,217.89 44.19,217.89 42.26,221.16" fill="#33dd33" stroke="none" stroke-width="0.5"/>
<polygon points="44.87,213.53 48.72,213.53 46.79,216.8" fill="#33dd33" stroke="none" stroke-width="0.5"/>
<polygon points="49.4,229.32 53.25,229.32 51.32,232.59" fill="#33dd33" stroke="none" stroke-width="0.5"/>
<polygon points="62.98,242.39 66.83,242.39 64.91,245.66" fill="#33dd33" stroke="none" stroke-width="0.5"/>
<polygon points="67.52,242.93 71.36,242.93 69.44,246.2" fill="#33dd33" stroke="none" stroke-width="0.5"/>
<polygon points="76.58,238.58 80.42,238.58 78.5,241.85" fill="#33dd33" stroke="none" stroke-width="0.5"/>
<polygon points="81.11,234.77 84.95,234.77 83.03,238.04" fill="#33dd33" stroke="none" stroke-width="0.5"/>
<polygon points="85.64,223.33 89.48,223.33 87.56,226.6" fill="#33dd33" stroke="none" stroke-width="0.5"/>
<polygon points="90.17,236.4 94.02,236.4 92.09,239.67" fill="#33dd33" stroke="none" stroke-width="0.5"/>
<polygon points="94.7,236.94 98.55,236.94 96.62,240.22" fill="#33dd33" stroke="none" stroke-width="0.5"/>
<polygon points="103.76,239.12 107.61,239.12 105.68,242.39" fill="#33dd33" stroke="none" stroke-width="0.5"/>
<polygon points="108.29,241.84 112.14,241.84 110.21,245.12" fill="#33dd33" stroke="none" stroke-width="0.5"/>
<polygon points="112.82,237.49 116.67,237.49 114.74,240.76" fill="#33dd33" stroke="none" stroke-width="0.5"/>
<polygon points="117.35,251.1 121.2,251.1 119.27,254.37" fill="#33dd33" stroke="none" stroke-width="0.5"/>
<polygon points="121.88,240.21 125.73,240.21 123.8,243.48" fill="#33dd33" stroke="none" stroke-width="0.5"/>
<polygon points="126.41,239.67 130.26,239.67 128.33,242.94" fill="#33dd33" stroke="none" stroke-width="0.5"/>
<polygon points="130.94,241.84 134.79,241.84 132.86,245.12" fill="#33dd33" stroke="none" stroke-width="0.5"/>
<polygon points="140,229.86 143.85,229.86 141.92,233.14" fill="#33dd33" stroke="none" stroke-width="0.5"/>
<polygon points="144.52,209.72 148.38,209.72 146.45,212.99" fill="#33dd33" stroke="none" stroke-width="0.5"/>
<polygon points="149.06,228.23 152.91,228.23 150.98,231.5" fill="#33dd33" stroke="none" stroke-width="0.5"/>
<polygon points="158.12,235.85 161.97,235.85 160.04,239.13" fill="#33dd33" stroke="none" stroke-width="0.5"/>
<polygon points="162.64,205.36 166.5,205.36 164.57,208.63" fill="#33dd33" stroke="none" stroke-width="0.5"/>
<polygon points="167.18,210.26 171.03,210.26 169.1,213.53" fill="#33dd33" stroke="none" stroke-width="0.5"/>
<polyline points="42.26,233.04 46.79,230.86 51.32,231.95 64.91,240.12 69.44,250.46 78.5,228.68 83.03,239.03 87.56,242.84 92.09,238.48 96.62,244.47 105.68,258.63 110.21,231.95 114.74,229.77 119.27,233.04 123.8,230.32 128.33,223.78 132.86,221.6 141.92,234.67 146.45,228.14 150.98,227.59 160.04,227.05 164.57,224.87 169.1,226.5" fill="none" stroke="#1a1aff" stroke-width="0.7"/>
<polygon points="40.51,233.04 42.26,231.29 44.01,233.04 42.26,234.79" fill="#1a1aff"/>
<polygon points="45.04,230.86 46.79,229.11 48.54,230.86 46.79,232.61" fill="#1a1aff"/>
<polygon points="49.57,231.95 51.32,230.2 53.07,231.95 51.32,233.7" fill="#1a1aff"/>
<polygon points="63.16,240.12 64.91,238.37 66.66,240.12 64.91,241.87" fill="#1a1aff"/>
<polygon points="67.69,250.46 69.44,248.71 71.19,250.46 69.44,252.21" fill="#1a1aff"/>
<polygon points="76.75,228.68 78.5,226.93 80.25,228.68 78.5,230.43" fill="#1a1aff"/>
<polygon points="81.28,239.03 83.03,237.28 84.78,239.03 83.03,240.78" fill="#1a1aff"/>
<polygon points="85.81,242.84 87.56,241.09 89.31,242.84 87.56,244.59" fill="#1a1aff"/>
<polygon points="90.34,238.48 92.09,236.73 93.84,238.48 92.09,240.23" fill="#1a1aff"/>
<polygon points="94.87,244.47 96.62,242.72 98.37,244.47 96.62,246.22" fill="#1a1aff"/>
<polygon points="103.93,258.63 105.68,256.88 107.43,258.63 105.68,260.38" fill="#1a1aff"/>
<polygon points="108.46,231.95 110.21,230.2 111.96,231.95 110.21,233.7" fill="#1a1aff"/>
<polygon points="112.99,229.77 114.74,228.02 116.49,229.77 114.74,231.52" fill="#1a1aff"/>
<polygon points="117.52,233.04 119.27,231.29 121.02,233.04 119.27,234.79" fill="#1a1aff"/>
<polygon points="122.05,230.32 123.8,228.57 125.55,230.32 123.8,232.07" fill="#1a1aff"/>
<polygon points="126.58,223.78 128.33,222.03 130.08,223.78 128.33,225.53" fill="#1a1aff"/>
<polygon points="131.11,221.6 132.86,219.85 134.61,221.6 132.86,223.35" fill="#1a1aff"/>
<polygon points="140.17,234.67 141.92,232.92 143.67,234.67 141.92,236.42" fill="#1a1aff"/>
<polygon points="144.7,228.14 146.45,226.39 148.2,228.14 146.45,229.89" fill="#1a1aff"/>
<polygon points="149.23,227.59 150.98,225.84 152.73,227.59 150.98,229.34" fill="#1a1aff"/>
<polygon points="158.29,227.05 160.04,225.3 161.79,227.05 160.04,228.8" fill="#1a1aff"/>
<polygon points="162.82,224.87 164.57,223.12 166.32,224.87 164.57,226.62" fill="#1a1aff"/>
<polygon points="167.35,226.5 169.1,224.75 170.85,226.5 169.1,228.25" fill="#1a1aff"/>
<polyline points="46.79,239.57 51.32,221.06 64.91,229.23 69.44,247.19 78.5,228.68 83.03,212.35 87.56,237.94 92.09,233.58 96.62,225.41 105.68,224.87 110.21,225.96 114.74,221.6 119.27,229.23 123.8,227.05 128.33,223.24 132.86,229.77 141.92,243.38 146.45,238.48 150.98,238.48 160.04,203.63 164.57,215.07 169.1,221.6" fill="none" stroke="#ff55dd" stroke-width="0.7"/>
<circle cx="46.79" cy="239.57" r="1.75" fill="#ff55dd" stroke="none" stroke-width="0.6"/>
<circle cx="51.32" cy="221.06" r="1.75" fill="#ff55dd" stroke="none" stroke-width="0.6"/>
<circle cx="64.91" cy="229.23" r="1.75" fill="#ff55dd" stroke="none" stroke-width="0.6"/>
<circle cx="69.44" cy="247.19" r="1.75" fill="#ff55dd" stroke="none" stroke-width="0.6"/>
<circle cx="78.5" cy="228.68" r="1.75" fill="#ff55dd" stroke="none" stroke-width="0.6"/>
<circle cx="83.03" cy="212.35" r="1.75" fill="#ff55dd" stroke="none" stroke-width="0.6"/>
<circle cx="87.56" cy="237.94" r="1.75" fill="#ff55dd" stroke="none" stroke-width="0.6"/>
<circle cx="92.09" cy="233.58" r="1.75" fill="#ff55dd" stroke="none" stroke-width="0.6"/>
<circle cx="96.62" cy="225.41" r="1.75" fill="#ff55dd" stroke="none" stroke-width="0.6"/>
<circle cx="105.68" cy="224.87" r="1.75" fill="#ff55dd" stroke="none" stroke-width="0.6"/>
<circle cx="110.21" cy="225.96" r="1.75" fill="#ff55dd" stroke="none" stroke-width="0.6"/>
<circle cx="114.74" cy="221.6" r="1.75" fill="#ff55dd" stroke="none" stroke-width="0.6"/>
<circle cx="119.27" cy="229.23" r="1.75" fill="#ff55dd" stroke="none" stroke-width="0.6"/>
<circle cx="123.8" cy="227.05" r="1.75" fill="#ff55dd" stroke="none" stroke-width="0.6"/>
<circle cx="128.33" cy="223.24" r="1.75" fill="#ff55dd" stroke="none" stroke-width="0.6"/>
<circle cx="132.86" cy="229.77" r="1.75" fill="#ff55dd" stroke="none" stroke-width="0.6"/>
<circle cx="141.92" cy="243.38" r="1.75" fill="#ff55dd" stroke="none" stroke-width="0.6"/>
<circle cx="146.45" cy="238.48" r="1.75" fill="#ff55dd" stroke="none" stroke-width="0.6"/>
<circle cx="150.98" cy="238.48" r="1.75" fill="#ff55dd" stroke="none" stroke-width="0.6"/>
<circle cx="160.04" cy="203.63" r="1.75" fill="#ff55dd" stroke="none" stroke-width="0.6"/>
<circle cx="164.57" cy="215.07" r="1.75" fill="#ff55dd" stroke="none" stroke-width="0.6"/>
<circle cx="169.1" cy="221.6" r="1.75" fill="#ff55dd" stroke="none" stroke-width="0.6"/>
<text x="40.4" y="204.56" font-size="7.2" text-anchor="start">(KD)</text>
<line x1="44.8" y1="178.4" x2="54.8" y2="178.4" stroke="#000" stroke-width="0.6"/>
<circle cx="49.8" cy="178.4" r="1.7" fill="#000" stroke="none" stroke-width="0.6"/>
<text x="57.5" y="181.03" font-size="7.4" text-anchor="start">RD</text>
<line x1="90.8" y1="178.4" x2="100.8" y2="178.4" stroke="#2020d0" stroke-width="0.6"/>
<polygon points="93.93,179.9 97.67,179.9 95.8,176.72" fill="#2020d0" stroke="none" stroke-width="0.5"/>
<text x="104.7" y="181.03" font-size="7.4" text-anchor="start">20%</text>
<line x1="139.3" y1="178.4" x2="149.3" y2="178.4" stroke="#1a1aff" stroke-width="0.6"/>
<polygon points="142.6,178.4 144.3,176.7 146,178.4 144.3,180.1" fill="#1a1aff"/>
<text x="152.8" y="181.03" font-size="7.4" text-anchor="start">70%</text>
<line x1="44.8" y1="189.4" x2="54.8" y2="189.4" stroke="#a0406a" stroke-width="0.6"/>
<rect x="48.1" y="187.7" width="3.4" height="3.4" fill="#a0406a" stroke="none" stroke-width="0.6"/>
<text x="57.5" y="192.03" font-size="7.4" text-anchor="start">0.50%</text>
<line x1="90.8" y1="189.4" x2="100.8" y2="189.4" stroke="#33dd33" stroke-width="0.6"/>
<polygon points="93.93,187.9 97.67,187.9 95.8,191.08" fill="#33dd33" stroke="none" stroke-width="0.5"/>
<text x="104.7" y="192.03" font-size="7.4" text-anchor="start">50%</text>
<line x1="139.3" y1="189.4" x2="149.3" y2="189.4" stroke="#ff55dd" stroke-width="0.6"/>
<circle cx="144.3" cy="189.4" r="1.7" fill="#ff55dd" stroke="none" stroke-width="0.6"/>
<text x="152.8" y="192.03" font-size="7.4" text-anchor="start">90%</text>
<text x="102.2" y="319.59" font-size="9" text-anchor="middle">Days</text>
<text transform="translate(6.4 241.8) rotate(-90)" x="0" y="3.19" font-size="9" text-anchor="middle">Feed intake (Kcal)</text>
<text x="194.6" y="176.5" font-size="12.0" font-weight="bold" fill="#000" stroke="#000" stroke-width="0.45">f</text>
<line x1="225.7" y1="186.3" x2="225.7" y2="297.2" stroke="#6d6e71" stroke-width="0.75"/>
<line x1="222" y1="297.2" x2="225.7" y2="297.2" stroke="#6d6e71" stroke-width="0.75"/>
<text x="217.5" y="299.83" font-size="7.4" text-anchor="end">14</text>
<line x1="222" y1="275.02" x2="225.7" y2="275.02" stroke="#6d6e71" stroke-width="0.75"/>
<text x="217.5" y="277.65" font-size="7.4" text-anchor="end">16</text>
<line x1="222" y1="252.84" x2="225.7" y2="252.84" stroke="#6d6e71" stroke-width="0.75"/>
<text x="217.5" y="255.47" font-size="7.4" text-anchor="end">18</text>
<line x1="222" y1="230.66" x2="225.7" y2="230.66" stroke="#6d6e71" stroke-width="0.75"/>
<text x="217.5" y="233.29" font-size="7.4" text-anchor="end">20</text>
<line x1="222" y1="208.48" x2="225.7" y2="208.48" stroke="#6d6e71" stroke-width="0.75"/>
<text x="217.5" y="211.11" font-size="7.4" text-anchor="end">22</text>
<line x1="222" y1="186.3" x2="225.7" y2="186.3" stroke="#6d6e71" stroke-width="0.75"/>
<text x="217.5" y="188.93" font-size="7.4" text-anchor="end">24</text>
<line x1="225.7" y1="297.2" x2="363.3" y2="297.2" stroke="#6d6e71" stroke-width="0.75"/>
<line x1="225.7" y1="297.2" x2="225.7" y2="300" stroke="#6d6e71" stroke-width="0.75"/>
<text x="225.7" y="309.23" font-size="7.4" text-anchor="middle">0</text>
<line x1="271.7" y1="297.2" x2="271.7" y2="300" stroke="#6d6e71" stroke-width="0.75"/>
<text x="271.7" y="309.23" font-size="7.4" text-anchor="middle">10</text>
<line x1="317.7" y1="297.2" x2="317.7" y2="300" stroke="#6d6e71" stroke-width="0.75"/>
<text x="317.7" y="309.23" font-size="7.4" text-anchor="middle">20</text>
<line x1="363.7" y1="297.2" x2="363.7" y2="300" stroke="#6d6e71" stroke-width="0.75"/>
<text x="363.7" y="309.23" font-size="7.4" text-anchor="middle">30</text>
<polyline points="225.7,251.73 230.3,248.4 244.1,249.51 257.9,247.29 271.7,246.19 285.5,243.41 299.3,248.4 313.1,247.85 326.9,244.52 340.7,243.41 354.5,235.65" fill="none" stroke="#000" stroke-width="0.7"/>
<circle cx="225.7" cy="251.73" r="1.7" fill="#000" stroke="none" stroke-width="0.6"/>
<circle cx="230.3" cy="248.4" r="1.7" fill="#000" stroke="none" stroke-width="0.6"/>
<circle cx="244.1" cy="249.51" r="1.7" fill="#000" stroke="none" stroke-width="0.6"/>
<circle cx="257.9" cy="247.29" r="1.7" fill="#000" stroke="none" stroke-width="0.6"/>
<circle cx="271.7" cy="246.19" r="1.7" fill="#000" stroke="none" stroke-width="0.6"/>
<circle cx="285.5" cy="243.41" r="1.7" fill="#000" stroke="none" stroke-width="0.6"/>
<circle cx="299.3" cy="248.4" r="1.7" fill="#000" stroke="none" stroke-width="0.6"/>
<circle cx="313.1" cy="247.85" r="1.7" fill="#000" stroke="none" stroke-width="0.6"/>
<circle cx="326.9" cy="244.52" r="1.7" fill="#000" stroke="none" stroke-width="0.6"/>
<circle cx="340.7" cy="243.41" r="1.7" fill="#000" stroke="none" stroke-width="0.6"/>
<circle cx="354.5" cy="235.65" r="1.7" fill="#000" stroke="none" stroke-width="0.6"/>
<polyline points="225.7,261.71 230.3,267.26 244.1,255.06 257.9,243.97 271.7,247.85 285.5,248.4 299.3,245.63 313.1,247.85 326.9,236.2 340.7,241.75 354.5,238.42" fill="none" stroke="#a0406a" stroke-width="0.7"/>
<rect x="224" y="260.01" width="3.4" height="3.4" fill="#a0406a" stroke="none" stroke-width="0.6"/>
<rect x="228.6" y="265.56" width="3.4" height="3.4" fill="#a0406a" stroke="none" stroke-width="0.6"/>
<rect x="242.4" y="253.36" width="3.4" height="3.4" fill="#a0406a" stroke="none" stroke-width="0.6"/>
<rect x="256.2" y="242.27" width="3.4" height="3.4" fill="#a0406a" stroke="none" stroke-width="0.6"/>
<rect x="270" y="246.15" width="3.4" height="3.4" fill="#a0406a" stroke="none" stroke-width="0.6"/>
<rect x="283.8" y="246.7" width="3.4" height="3.4" fill="#a0406a" stroke="none" stroke-width="0.6"/>
<rect x="297.6" y="243.93" width="3.4" height="3.4" fill="#a0406a" stroke="none" stroke-width="0.6"/>
<rect x="311.4" y="246.15" width="3.4" height="3.4" fill="#a0406a" stroke="none" stroke-width="0.6"/>
<rect x="325.2" y="234.5" width="3.4" height="3.4" fill="#a0406a" stroke="none" stroke-width="0.6"/>
<rect x="339" y="240.05" width="3.4" height="3.4" fill="#a0406a" stroke="none" stroke-width="0.6"/>
<rect x="352.8" y="236.72" width="3.4" height="3.4" fill="#a0406a" stroke="none" stroke-width="0.6"/>
<polyline points="225.7,262.82 230.3,266.7 244.1,253.95 257.9,250.62 271.7,250.62 285.5,235.65 299.3,244.52 313.1,232.88 326.9,237.87 340.7,253.39 354.5,242.3" fill="none" stroke="#2020d0" stroke-width="0.7"/>
<polygon points="223.83,264.32 227.57,264.32 225.7,261.14" fill="#2020d0" stroke="none" stroke-width="0.5"/>
<polygon points="228.43,268.2 232.17,268.2 230.3,265.02" fill="#2020d0" stroke="none" stroke-width="0.5"/>
<polygon points="242.23,255.45 245.97,255.45 244.1,252.27" fill="#2020d0" stroke="none" stroke-width="0.5"/>
<polygon points="256.03,252.12 259.77,252.12 257.9,248.94" fill="#2020d0" stroke="none" stroke-width="0.5"/>
<polygon points="269.83,252.12 273.57,252.12 271.7,248.94" fill="#2020d0" stroke="none" stroke-width="0.5"/>
<polygon points="283.63,237.15 287.37,237.15 285.5,233.97" fill="#2020d0" stroke="none" stroke-width="0.5"/>
<polygon points="297.43,246.02 301.17,246.02 299.3,242.84" fill="#2020d0" stroke="none" stroke-width="0.5"/>
<polygon points="311.23,234.37 314.97,234.37 313.1,231.19" fill="#2020d0" stroke="none" stroke-width="0.5"/>
<polygon points="325.03,239.36 328.77,239.36 326.9,236.19" fill="#2020d0" stroke="none" stroke-width="0.5"/>
<polygon points="338.83,254.89 342.57,254.89 340.7,251.71" fill="#2020d0" stroke="none" stroke-width="0.5"/>
<polygon points="352.63,243.8 356.37,243.8 354.5,240.62" fill="#2020d0" stroke="none" stroke-width="0.5"/>
<polyline points="225.7,256.17 230.3,251.73 244.1,241.75 257.9,242.86 271.7,240.64 285.5,236.2 299.3,236.2 313.1,236.2 326.9,225.12 340.7,220.12 354.5,219.02" fill="none" stroke="#33dd33" stroke-width="0.7"/>
<polygon points="223.83,254.67 227.57,254.67 225.7,257.85" fill="#33dd33" stroke="none" stroke-width="0.5"/>
<polygon points="228.43,250.23 232.17,250.23 230.3,253.41" fill="#33dd33" stroke="none" stroke-width="0.5"/>
<polygon points="242.23,240.25 245.97,240.25 244.1,243.43" fill="#33dd33" stroke="none" stroke-width="0.5"/>
<polygon points="256.03,241.36 259.77,241.36 257.9,244.54" fill="#33dd33" stroke="none" stroke-width="0.5"/>
<polygon points="269.83,239.14 273.57,239.14 271.7,242.32" fill="#33dd33" stroke="none" stroke-width="0.5"/>
<polygon points="283.63,234.71 287.37,234.71 285.5,237.89" fill="#33dd33" stroke="none" stroke-width="0.5"/>
<polygon points="297.43,234.71 301.17,234.71 299.3,237.89" fill="#33dd33" stroke="none" stroke-width="0.5"/>
<polygon points="311.23,234.71 314.97,234.71 313.1,237.89" fill="#33dd33" stroke="none" stroke-width="0.5"/>
<polygon points="325.03,223.62 328.77,223.62 326.9,226.8" fill="#33dd33" stroke="none" stroke-width="0.5"/>
<polygon points="338.83,218.63 342.57,218.63 340.7,221.81" fill="#33dd33" stroke="none" stroke-width="0.5"/>
<polygon points="352.63,217.52 356.37,217.52 354.5,220.7" fill="#33dd33" stroke="none" stroke-width="0.5"/>
<polyline points="225.7,260.6 230.3,254.5 244.1,245.08 257.9,242.3 271.7,238.42 285.5,233.99 299.3,243.97 313.1,231.21 326.9,224.01 340.7,220.68 354.5,217.35" fill="none" stroke="#1a1aff" stroke-width="0.7"/>
<polygon points="224,260.6 225.7,258.9 227.4,260.6 225.7,262.3" fill="#1a1aff"/>
<polygon points="228.6,254.5 230.3,252.8 232,254.5 230.3,256.2" fill="#1a1aff"/>
<polygon points="242.4,245.08 244.1,243.38 245.8,245.08 244.1,246.78" fill="#1a1aff"/>
<polygon points="256.2,242.3 257.9,240.6 259.6,242.3 257.9,244" fill="#1a1aff"/>
<polygon points="270,238.42 271.7,236.72 273.4,238.42 271.7,240.12" fill="#1a1aff"/>
<polygon points="283.8,233.99 285.5,232.29 287.2,233.99 285.5,235.69" fill="#1a1aff"/>
<polygon points="297.6,243.97 299.3,242.27 301,243.97 299.3,245.67" fill="#1a1aff"/>
<polygon points="311.4,231.21 313.1,229.51 314.8,231.21 313.1,232.91" fill="#1a1aff"/>
<polygon points="325.2,224.01 326.9,222.31 328.6,224.01 326.9,225.71" fill="#1a1aff"/>
<polygon points="339,220.68 340.7,218.98 342.4,220.68 340.7,222.38" fill="#1a1aff"/>
<polygon points="352.8,217.35 354.5,215.65 356.2,217.35 354.5,219.05" fill="#1a1aff"/>
<polyline points="225.7,268.37 230.3,267.26 244.1,252.84 257.9,241.2 271.7,236.2 285.5,229.55 299.3,226.22 313.1,224.01 326.9,222.34 340.7,229.55 354.5,219.57" fill="none" stroke="#ff55dd" stroke-width="0.7"/>
<circle cx="225.7" cy="268.37" r="1.7" fill="#ff55dd" stroke="none" stroke-width="0.6"/>
<circle cx="230.3" cy="267.26" r="1.7" fill="#ff55dd" stroke="none" stroke-width="0.6"/>
<circle cx="244.1" cy="252.84" r="1.7" fill="#ff55dd" stroke="none" stroke-width="0.6"/>
<circle cx="257.9" cy="241.2" r="1.7" fill="#ff55dd" stroke="none" stroke-width="0.6"/>
<circle cx="271.7" cy="236.2" r="1.7" fill="#ff55dd" stroke="none" stroke-width="0.6"/>
<circle cx="285.5" cy="229.55" r="1.7" fill="#ff55dd" stroke="none" stroke-width="0.6"/>
<circle cx="299.3" cy="226.22" r="1.7" fill="#ff55dd" stroke="none" stroke-width="0.6"/>
<circle cx="313.1" cy="224.01" r="1.7" fill="#ff55dd" stroke="none" stroke-width="0.6"/>
<circle cx="326.9" cy="222.34" r="1.7" fill="#ff55dd" stroke="none" stroke-width="0.6"/>
<circle cx="340.7" cy="229.55" r="1.7" fill="#ff55dd" stroke="none" stroke-width="0.6"/>
<circle cx="354.5" cy="219.57" r="1.7" fill="#ff55dd" stroke="none" stroke-width="0.6"/>
<text x="233.1" y="204.16" font-size="7.2" text-anchor="start">(KD)</text>
<line x1="232.7" y1="177.4" x2="242.7" y2="177.4" stroke="#000" stroke-width="0.6"/>
<circle cx="237.7" cy="177.4" r="1.7" fill="#000" stroke="none" stroke-width="0.6"/>
<text x="246.1" y="180.03" font-size="7.4" text-anchor="start">RD</text>
<line x1="281.2" y1="177.4" x2="291.2" y2="177.4" stroke="#2020d0" stroke-width="0.6"/>
<polygon points="284.33,178.9 288.07,178.9 286.2,175.72" fill="#2020d0" stroke="none" stroke-width="0.5"/>
<text x="294.4" y="180.03" font-size="7.4" text-anchor="start">20%</text>
<line x1="329.5" y1="177.4" x2="339.5" y2="177.4" stroke="#1a1aff" stroke-width="0.6"/>
<polygon points="332.8,177.4 334.5,175.7 336.2,177.4 334.5,179.1" fill="#1a1aff"/>
<text x="342.5" y="180.03" font-size="7.4" text-anchor="start">70%</text>
<line x1="232.7" y1="190.7" x2="242.7" y2="190.7" stroke="#a0406a" stroke-width="0.6"/>
<rect x="236" y="189" width="3.4" height="3.4" fill="#a0406a" stroke="none" stroke-width="0.6"/>
<text x="246.1" y="193.33" font-size="7.4" text-anchor="start">0.50%</text>
<line x1="281.2" y1="190.7" x2="291.2" y2="190.7" stroke="#33dd33" stroke-width="0.6"/>
<polygon points="284.33,189.2 288.07,189.2 286.2,192.38" fill="#33dd33" stroke="none" stroke-width="0.5"/>
<text x="294.4" y="193.33" font-size="7.4" text-anchor="start">50%</text>
<line x1="329.5" y1="190.7" x2="339.5" y2="190.7" stroke="#ff55dd" stroke-width="0.6"/>
<circle cx="334.5" cy="190.7" r="1.7" fill="#ff55dd" stroke="none" stroke-width="0.6"/>
<text x="342.5" y="193.33" font-size="7.4" text-anchor="start">90%</text>
<text x="293.9" y="319.59" font-size="9" text-anchor="middle">Days</text>
<text transform="translate(199.4 241.8) rotate(-90)" x="0" y="3.19" font-size="9" text-anchor="middle">Body weight (g)</text>
<text x="380.7" y="178" font-size="12.0" font-weight="bold" fill="#000" stroke="#000" stroke-width="0.45">g</text>
<line x1="415.4" y1="183.5" x2="415.4" y2="297.2" stroke="#6d6e71" stroke-width="0.75"/>
<line x1="411.2" y1="297.2" x2="415.4" y2="297.2" stroke="#6d6e71" stroke-width="0.75"/>
<text x="407.2" y="299.83" font-size="7.4" text-anchor="end">0</text>
<line x1="411.2" y1="259.3" x2="415.4" y2="259.3" stroke="#6d6e71" stroke-width="0.75"/>
<text x="407.2" y="261.93" font-size="7.4" text-anchor="end">20</text>
<line x1="411.2" y1="221.4" x2="415.4" y2="221.4" stroke="#6d6e71" stroke-width="0.75"/>
<text x="407.2" y="224.03" font-size="7.4" text-anchor="end">40</text>
<line x1="411.2" y1="183.5" x2="415.4" y2="183.5" stroke="#6d6e71" stroke-width="0.75"/>
<text x="407.2" y="186.13" font-size="7.4" text-anchor="end">60</text>
<line x1="415.4" y1="297.2" x2="518.5" y2="297.2" stroke="#6d6e71" stroke-width="0.75"/>
<polygon points="428.7,295.68 454.2,283.94 479.8,225.19 479.8,297.2 428.7,297.2" fill="#d1d3d4" stroke="none" stroke-width="0.5"/>
<line x1="428.7" y1="297.2" x2="505.3" y2="297.2" stroke="#ee2255" stroke-width="0.8"/>
<polyline points="428.7,295.68 454.2,283.94 479.8,225.19" fill="none" stroke="#2424d8" stroke-width="0.7"/>
<line x1="479.8" y1="202.83" x2="479.8" y2="247.55" stroke="#2a2ac8" stroke-width="0.7"/>
<line x1="478" y1="202.83" x2="481.6" y2="202.83" stroke="#2a2ac8" stroke-width="0.7"/>
<line x1="478" y1="247.55" x2="481.6" y2="247.55" stroke="#2a2ac8" stroke-width="0.7"/>
<rect x="426.5" y="293.48" width="4.4" height="4.4" fill="#1010c8" stroke="none" stroke-width="0.6"/>
<rect x="452" y="281.74" width="4.4" height="4.4" fill="#1010c8" stroke="none" stroke-width="0.6"/>
<rect x="477.6" y="222.99" width="4.4" height="4.4" fill="#1010c8" stroke="none" stroke-width="0.6"/>
<circle cx="428.7" cy="297.2" r="2.3" fill="#ee1155" stroke="none" stroke-width="0.6"/>
<circle cx="454.2" cy="297.2" r="2.3" fill="#ee1155" stroke="none" stroke-width="0.6"/>
<circle cx="479.8" cy="297.2" r="2.3" fill="#ee1155" stroke="none" stroke-width="0.6"/>
<circle cx="505.3" cy="297.2" r="2.3" fill="#ee1155" stroke="none" stroke-width="0.6"/>
<text x="428.7" y="309.53" font-size="7.4" text-anchor="middle">5</text>
<text x="454.2" y="309.53" font-size="7.4" text-anchor="middle">7</text>
<text x="479.8" y="309.53" font-size="7.4" text-anchor="middle">13</text>
<text x="505.3" y="309.53" font-size="7.4" text-anchor="middle">30</text>
<text x="421.2" y="183.49" font-size="8.7" text-anchor="start">Female BALB/c</text>
<text x="486.4" y="227.16" font-size="7.2" text-anchor="start">RD</text>
<text x="501" y="292.86" font-size="7.2" text-anchor="start">KD</text>
<text transform="translate(385.5 241.8) rotate(-90)" x="0" y="3.19" font-size="9" text-anchor="middle">Parasitemia (%)</text>
<text x="469.2" y="322.89" font-size="9" text-anchor="middle">Days post infection</text>
<text x="528.9" y="176.6" font-size="12.0" font-weight="bold" fill="#000" stroke="#000" stroke-width="0.45">h</text>
<line x1="561.2" y1="183.3" x2="561.2" y2="298" stroke="#6d6e71" stroke-width="0.75"/>
<line x1="556.6" y1="298" x2="561.2" y2="298" stroke="#6d6e71" stroke-width="0.75"/>
<text x="553" y="300.63" font-size="7.4" text-anchor="end">0</text>
<line x1="556.6" y1="240.65" x2="561.2" y2="240.65" stroke="#6d6e71" stroke-width="0.75"/>
<text x="553" y="243.28" font-size="7.4" text-anchor="end">50</text>
<line x1="556.6" y1="183.3" x2="561.2" y2="183.3" stroke="#6d6e71" stroke-width="0.75"/>
<text x="553" y="185.93" font-size="7.4" text-anchor="end">100</text>
<line x1="559.6" y1="269.32" x2="561.2" y2="269.32" stroke="#6d6e71" stroke-width="0.75"/>
<line x1="559.6" y1="211.97" x2="561.2" y2="211.97" stroke="#6d6e71" stroke-width="0.75"/>
<line x1="561.2" y1="298" x2="678" y2="298" stroke="#6d6e71" stroke-width="0.75"/>
<line x1="561.2" y1="298" x2="561.2" y2="300.8" stroke="#6d6e71" stroke-width="0.75"/>
<text x="561.2" y="310.63" font-size="7.4" text-anchor="middle">0</text>
<line x1="580.66" y1="298" x2="580.66" y2="300.8" stroke="#6d6e71" stroke-width="0.75"/>
<text x="580.66" y="310.63" font-size="7.4" text-anchor="middle">5</text>
<line x1="600.11" y1="298" x2="600.11" y2="300.8" stroke="#6d6e71" stroke-width="0.75"/>
<text x="600.11" y="310.63" font-size="7.4" text-anchor="middle">10</text>
<line x1="619.57" y1="298" x2="619.57" y2="300.8" stroke="#6d6e71" stroke-width="0.75"/>
<text x="619.57" y="310.63" font-size="7.4" text-anchor="middle">15</text>
<line x1="639.02" y1="298" x2="639.02" y2="300.8" stroke="#6d6e71" stroke-width="0.75"/>
<text x="639.02" y="310.63" font-size="7.4" text-anchor="middle">20</text>
<line x1="658.48" y1="298" x2="658.48" y2="300.8" stroke="#6d6e71" stroke-width="0.75"/>
<text x="658.48" y="310.63" font-size="7.4" text-anchor="middle">25</text>
<line x1="677.93" y1="298" x2="677.93" y2="300.8" stroke="#6d6e71" stroke-width="0.75"/>
<text x="677.93" y="310.63" font-size="7.4" text-anchor="middle">30</text>
<line x1="592.33" y1="183.3" x2="678" y2="183.3" stroke="#ee2255" stroke-width="0.9"/>
<polyline points="561.2,183.3 592.33,183.3 592.33,194.77 596.22,194.77 596.22,229.18 600.11,229.18 600.11,240.65 607.89,240.65 607.89,252.12 615.67,252.12 615.67,275.06 627.35,275.06 627.35,298" fill="none" stroke="#2e2ed8" stroke-width="1.0" stroke-dasharray="14,1.8"/>
<text x="565.4" y="285.86" font-size="7.2" text-anchor="start" fill="#ee2255">KD</text>
<text x="565.4" y="295.76" font-size="7.2" text-anchor="start" fill="#2b2bd6">RD</text>
<polyline points="577.5,282.9 580.9,282.9 580.9,293.6 577.5,293.6" fill="none" stroke="#6d6e71" stroke-width="0.6"/>
<text x="584.6" y="290.93" font-size="7.4" text-anchor="start"><tspan font-style="italic">P</tspan> &lt; 0.0001</text>
<text transform="translate(532.9 242.5) rotate(-90)" x="0" y="3.19" font-size="9" text-anchor="middle">Percent survival</text>
<text x="620.5" y="322.89" font-size="9" text-anchor="middle">Days post infection</text>
<text x="-0.5" y="343.4" font-size="12.0" font-weight="bold" fill="#000" stroke="#000" stroke-width="0.45">i</text>
<line x1="28.3" y1="344.7" x2="28.3" y2="444.5" stroke="#6d6e71" stroke-width="0.75"/>
<line x1="24.8" y1="444.5" x2="28.3" y2="444.5" stroke="#6d6e71" stroke-width="0.75"/>
<text x="21" y="447.13" font-size="7.4" text-anchor="end">0</text>
<line x1="24.8" y1="424.54" x2="28.3" y2="424.54" stroke="#6d6e71" stroke-width="0.75"/>
<text x="21" y="427.17" font-size="7.4" text-anchor="end">2</text>
<line x1="24.8" y1="404.58" x2="28.3" y2="404.58" stroke="#6d6e71" stroke-width="0.75"/>
<text x="21" y="407.21" font-size="7.4" text-anchor="end">4</text>
<line x1="24.8" y1="384.62" x2="28.3" y2="384.62" stroke="#6d6e71" stroke-width="0.75"/>
<text x="21" y="387.25" font-size="7.4" text-anchor="end">6</text>
<line x1="24.8" y1="364.66" x2="28.3" y2="364.66" stroke="#6d6e71" stroke-width="0.75"/>
<text x="21" y="367.29" font-size="7.4" text-anchor="end">8</text>
<line x1="24.8" y1="344.7" x2="28.3" y2="344.7" stroke="#6d6e71" stroke-width="0.75"/>
<text x="21" y="347.33" font-size="7.4" text-anchor="end">10</text>
<line x1="28.3" y1="444.5" x2="144.6" y2="444.5" stroke="#6d6e71" stroke-width="0.75"/>
<polygon points="35.3,442.5 50,415.56 64.5,354.18 64.5,444.5 35.3,444.5" fill="#d1d3d4" stroke="none" stroke-width="0.5"/>
<polyline points="35.3,444 50,443.5 64.5,443.8 78.9,444 93.4,443 108.4,443 122.7,443.9 137.3,443.9" fill="none" stroke="#e6198a" stroke-width="0.8"/>
<rect x="33.8" y="442.5" width="3" height="3" fill="#e6198a" stroke="none" stroke-width="0.6"/>
<rect x="48.5" y="442" width="3" height="3" fill="#e6198a" stroke="none" stroke-width="0.6"/>
<rect x="63" y="442.3" width="3" height="3" fill="#e6198a" stroke="none" stroke-width="0.6"/>
<rect x="77.4" y="442.5" width="3" height="3" fill="#e6198a" stroke="none" stroke-width="0.6"/>
<rect x="91.9" y="441.5" width="3" height="3" fill="#e6198a" stroke="none" stroke-width="0.6"/>
<rect x="106.9" y="441.5" width="3" height="3" fill="#e6198a" stroke="none" stroke-width="0.6"/>
<rect x="121.2" y="442.4" width="3" height="3" fill="#e6198a" stroke="none" stroke-width="0.6"/>
<rect x="135.8" y="442.4" width="3" height="3" fill="#e6198a" stroke="none" stroke-width="0.6"/>
<polyline points="35.3,442.5 50,415.56 64.5,354.18" fill="none" stroke="#2424d8" stroke-width="0.7"/>
<line x1="64.5" y1="349.69" x2="64.5" y2="358.67" stroke="#2424d8" stroke-width="0.6"/>
<line x1="62.9" y1="349.69" x2="66.1" y2="349.69" stroke="#2424d8" stroke-width="0.6"/>
<line x1="62.9" y1="358.67" x2="66.1" y2="358.67" stroke="#2424d8" stroke-width="0.6"/>
<circle cx="35.3" cy="442.5" r="1.7" fill="#1010c8" stroke="none" stroke-width="0.6"/>
<circle cx="50" cy="415.56" r="1.7" fill="#1010c8" stroke="none" stroke-width="0.6"/>
<circle cx="64.5" cy="354.18" r="1.7" fill="#1010c8" stroke="none" stroke-width="0.6"/>
<text x="35.3" y="456.93" font-size="7.4" text-anchor="middle">3</text>
<text x="50" y="456.93" font-size="7.4" text-anchor="middle">5</text>
<text x="64.5" y="456.93" font-size="7.4" text-anchor="middle">7</text>
<text x="78.9" y="456.93" font-size="7.4" text-anchor="middle">9</text>
<text x="93.4" y="456.93" font-size="7.4" text-anchor="middle">11</text>
<text x="108.4" y="456.93" font-size="7.4" text-anchor="middle">14</text>
<text x="122.7" y="456.93" font-size="7.4" text-anchor="middle">21</text>
<text x="137.3" y="456.93" font-size="7.4" text-anchor="middle">30</text>
<text x="32.8" y="347.19" font-size="8.7" text-anchor="start">Male C57BL/6</text>
<text x="67.6" y="372.56" font-size="7.2" text-anchor="start">RD</text>
<text x="92.9" y="438.06" font-size="7.2" text-anchor="start">KD</text>
<text x="88" y="468.3" font-size="9" text-anchor="middle">Days post infection</text>
<text transform="translate(5.7 395) rotate(-90)" x="0" y="3.19" font-size="9" text-anchor="middle">Parasitemia (%)</text>
<text x="157.3" y="344" font-size="12.0" font-weight="bold" fill="#000" stroke="#000" stroke-width="0.45">j</text>
<line x1="187.6" y1="344.6" x2="187.6" y2="444.3" stroke="#6d6e71" stroke-width="0.75"/>
<line x1="185.2" y1="444.3" x2="187.6" y2="444.3" stroke="#6d6e71" stroke-width="0.75"/>
<text x="181.2" y="446.93" font-size="7.4" text-anchor="end">0</text>
<line x1="185.2" y1="394.45" x2="187.6" y2="394.45" stroke="#6d6e71" stroke-width="0.75"/>
<text x="181.2" y="397.08" font-size="7.4" text-anchor="end">50</text>
<line x1="185.2" y1="344.6" x2="187.6" y2="344.6" stroke="#6d6e71" stroke-width="0.75"/>
<text x="181.2" y="347.23" font-size="7.4" text-anchor="end">100</text>
<line x1="186" y1="419.38" x2="187.6" y2="419.38" stroke="#6d6e71" stroke-width="0.75"/>
<line x1="186" y1="369.52" x2="187.6" y2="369.52" stroke="#6d6e71" stroke-width="0.75"/>
<line x1="187.6" y1="444.3" x2="280.5" y2="444.3" stroke="#6d6e71" stroke-width="0.75"/>
<line x1="187.6" y1="444.3" x2="187.6" y2="447.1" stroke="#6d6e71" stroke-width="0.75"/>
<text x="187.6" y="456.73" font-size="7.4" text-anchor="middle">0</text>
<line x1="203.08" y1="444.3" x2="203.08" y2="447.1" stroke="#6d6e71" stroke-width="0.75"/>
<text x="203.08" y="456.73" font-size="7.4" text-anchor="middle">5</text>
<line x1="218.57" y1="444.3" x2="218.57" y2="447.1" stroke="#6d6e71" stroke-width="0.75"/>
<text x="218.57" y="456.73" font-size="7.4" text-anchor="middle">10</text>
<line x1="234.06" y1="444.3" x2="234.06" y2="447.1" stroke="#6d6e71" stroke-width="0.75"/>
<text x="234.06" y="456.73" font-size="7.4" text-anchor="middle">15</text>
<line x1="249.54" y1="444.3" x2="249.54" y2="447.1" stroke="#6d6e71" stroke-width="0.75"/>
<text x="249.54" y="456.73" font-size="7.4" text-anchor="middle">20</text>
<line x1="265.02" y1="444.3" x2="265.02" y2="447.1" stroke="#6d6e71" stroke-width="0.75"/>
<text x="265.02" y="456.73" font-size="7.4" text-anchor="middle">25</text>
<line x1="280.51" y1="444.3" x2="280.51" y2="447.1" stroke="#6d6e71" stroke-width="0.75"/>
<text x="280.51" y="456.73" font-size="7.4" text-anchor="middle">30</text>
<line x1="206.18" y1="344.6" x2="280.5" y2="344.6" stroke="#f0508c" stroke-width="0.9"/>
<line x1="187.6" y1="344.6" x2="206.18" y2="344.6" stroke="#8585f2" stroke-width="1.1"/>
<polyline points="206.18,344.6 206.18,377.5 209.28,377.5 209.28,444.3" fill="none" stroke="#7b7bf0" stroke-width="1.2" stroke-dasharray="9,1.8"/>
<text x="217.8" y="424.96" font-size="7.2" text-anchor="start" fill="#f0508c">KD</text>
<text x="217.8" y="437.86" font-size="7.2" text-anchor="start" fill="#5a5ae6">RD</text>
<polyline points="231.5,422.4 235.3,422.4 235.3,435.3 231.5,435.3" fill="none" stroke="#6d6e71" stroke-width="0.6"/>
<text x="238" y="432.33" font-size="7.4" text-anchor="start"><tspan font-style="italic">P</tspan> = 0.0012</text>
<text x="235" y="468.19" font-size="9" text-anchor="middle">Days post infection</text>
<text transform="translate(164 394.4) rotate(-90)" x="0" y="3.19" font-size="9" text-anchor="middle">Percent survival</text>
<text x="301.6" y="344" font-size="12.0" font-weight="bold" fill="#000" stroke="#000" stroke-width="0.45">k</text>
<text transform="translate(305.7 397.5) rotate(-90)" x="0" y="3.19" font-size="9" text-anchor="middle">7 days post infection</text>
<defs><filter id="bl1" x="-50%" y="-50%" width="200%" height="200%"><feGaussianBlur stdDeviation="0.7"/></filter><filter id="bl2" x="-50%" y="-50%" width="200%" height="200%"><feGaussianBlur stdDeviation="0.38"/></filter><filter id="bl3" x="-50%" y="-50%" width="200%" height="200%"><feGaussianBlur stdDeviation="1.2"/></filter><clipPath id="kc"><rect x="312.9" y="347.6" width="79.5" height="102"/></clipPath><linearGradient id="fl" x1="0" y1="0" x2="0" y2="1"><stop offset="0" stop-color="#3a3a3a"/><stop offset="1" stop-color="#333"/></linearGradient></defs>
<g clip-path="url(#kc)">
<rect x="312.9" y="347.6" width="79.5" height="102" fill="#2d2d2d" stroke="none" stroke-width="0.6"/>
<rect x="312.9" y="347.6" width="79.5" height="7.4" fill="#161616" stroke="none" stroke-width="0.6"/>
<rect x="320.5" y="347.6" width="0.8" height="5" fill="#3d3d3d" stroke="none" stroke-width="0.6"/>
<rect x="338.2" y="347.6" width="0.8" height="5" fill="#3d3d3d" stroke="none" stroke-width="0.6"/>
<rect x="340" y="347.6" width="0.8" height="5" fill="#3d3d3d" stroke="none" stroke-width="0.6"/>
<rect x="356.6" y="347.6" width="0.8" height="5" fill="#3d3d3d" stroke="none" stroke-width="0.6"/>
<rect x="372.2" y="347.6" width="0.8" height="5" fill="#3d3d3d" stroke="none" stroke-width="0.6"/>
<rect x="374.3" y="347.6" width="0.8" height="5" fill="#3d3d3d" stroke="none" stroke-width="0.6"/>
<rect x="390" y="347.6" width="0.8" height="5" fill="#3d3d3d" stroke="none" stroke-width="0.6"/>
<g filter="url(#bl1)">
<rect x="320.8" y="354.8" width="35.8" height="58.8" fill="#111" stroke="none" stroke-width="0.6"/>
<rect x="357.8" y="354.8" width="32.2" height="58.8" fill="#111" stroke="none" stroke-width="0.6"/>
</g>
<rect x="312.9" y="413.6" width="79.5" height="36" fill="url(#fl)" stroke="none" stroke-width="0.6"/>
<g filter="url(#bl1)">
<path d="M335,356.5 C333.5,359 333.2,363 332,366 C329.5,370 329,376 329.2,386 C329.4,397 330,406 332.5,411.5 C334.5,415.5 342.5,415.5 344.8,411.5 C347.5,406 348.5,397 348.6,386 C348.7,376 348,370 345.5,366 C343.8,363 342.8,359 341.2,356.5 C339.5,354.3 336.5,354.3 335,356.5 Z" fill="#4a4a4a"/>
<path d="M378,357 C375,358 373,361 371.5,364 C368,366.5 365,369 364,374 C362.5,380 362.2,390 362.6,397 C363,404 366,409 369.5,411.5 C372.5,413 376.5,412.5 379,410 C382,406 383,400 383.2,393 C383.4,385 383.3,377 382.5,371 C381.8,366 381.5,362 380.5,359.5 C379.8,357.5 379,356.8 378,357 Z" fill="#484848"/>
</g>
<defs><filter id="tx" x="0" y="0" width="100%" height="100%"><feTurbulence type="fractalNoise" baseFrequency="0.22" numOctaves="2" seed="5"/><feColorMatrix type="matrix" values="0 0 0 0 1  0 0 0 0 1  0 0 0 0 1  1.6 0 0 0 -0.75"/><feComposite in2="SourceGraphic" operator="in"/></filter><clipPath id="mc"><path d="M335,356.5 C333.5,359 333.2,363 332,366 C329.5,370 329,376 329.2,386 C329.4,397 330,406 332.5,411.5 C334.5,415.5 342.5,415.5 344.8,411.5 C347.5,406 348.5,397 348.6,386 C348.7,376 348,370 345.5,366 C343.8,363 342.8,359 341.2,356.5 C339.5,354.3 336.5,354.3 335,356.5 Z"/><path d="M378,357 C375,358 373,361 371.5,364 C368,366.5 365,369 364,374 C362.5,380 362.2,390 362.6,397 C363,404 366,409 369.5,411.5 C372.5,413 376.5,412.5 379,410 C382,406 383,400 383.2,393 C383.4,385 383.3,377 382.5,371 C381.8,366 381.5,362 380.5,359.5 C379.8,357.5 379,356.8 378,357 Z"/></clipPath></defs>
<g clip-path="url(#mc)"><rect x="325" y="352" width="62" height="66" fill="#fff" filter="url(#tx)" opacity="0.3"/></g>
<g filter="url(#bl3)">
<ellipse cx="338" cy="372" rx="5" ry="4" fill="#5e5e5e"/>
<ellipse cx="338" cy="398" rx="5" ry="5" fill="#5a5a5a"/>
<ellipse cx="373" cy="380" rx="5" ry="6" fill="#5f5f5f"/>
<ellipse cx="377" cy="362" rx="3" ry="4" fill="#7a7a7a"/>
<ellipse cx="372" cy="392" rx="5" ry="4" fill="#5c5c5c"/>
<ellipse cx="366" cy="384" rx="2.5" ry="6" fill="#3e3e3e"/>
</g>
<g filter="url(#bl2)">
<ellipse cx="326.8" cy="373.8" rx="1.5" ry="1.2" fill="#d0d0d0"/>
<ellipse cx="345.9" cy="374.3" rx="1.5" ry="1.2" fill="#d0d0d0"/>
<ellipse cx="366.6" cy="371.1" rx="1.6" ry="1.1" fill="#dadada"/>
<ellipse cx="371.9" cy="374.8" rx="1.2" ry="0.9" fill="#c0c0c0"/>
<ellipse cx="384.1" cy="370" rx="1.3" ry="1.3" fill="#8a8a8a"/>
<ellipse cx="377.4" cy="361.5" rx="1.8" ry="2.8" fill="#a8a8a8"/>
<ellipse cx="371.4" cy="399.8" rx="1.5" ry="1.0" fill="#d0d0d0"/>
<ellipse cx="376.7" cy="401.9" rx="1.0" ry="0.9" fill="#b8b8b8"/>
<polyline points="330.8,406 329,412 324.3,417" fill="none" stroke="#c8c8c8" stroke-width="1.5"/>
<polyline points="347.2,405.5 349.5,411 353.8,415.5" fill="none" stroke="#b0b0b0" stroke-width="1.4"/>
<polyline points="361.5,402 360.8,408 359.2,413.6" fill="none" stroke="#a0a0a0" stroke-width="1.4"/>
<polyline points="384.7,403 386,407 387.8,410.4" fill="none" stroke="#a8a8a8" stroke-width="1.4"/>
<polyline points="339.8,414 340.3,430 340.3,450" fill="none" stroke="#b0b0b0" stroke-width="2.0"/>
<polyline points="373.8,410 373.3,430 372.3,450" fill="none" stroke="#b0b0b0" stroke-width="2.0"/>
</g>
<g filter="url(#bl2)">
<path d="M334.2,358 C334.5,356 339.5,356 339.8,358 L340.4,365.5 C340.4,366.5 333.6,366.5 333.6,365.5 Z" fill="#1f2aff"/>
<path d="M334.8,358.6 C335,357 339,357 339.2,358.6 L339.7,365 L334.3,365 Z" fill="#12d6f0"/>
<path d="M335.3,359 C335.5,357.7 338.5,357.7 338.7,359 L339.1,364.5 L334.9,364.5 Z" fill="#3ee63a"/>
<path d="M335.7,359 C336,358 338,358 338.3,359 L338.5,362.3 L335.5,362.3 Z" fill="#f2ee10"/>
<ellipse cx="337" cy="359.6" rx="1.3" ry="1.6" fill="#ff8c10"/>
<ellipse cx="337" cy="359.4" rx="0.8" ry="1.0" fill="#ff2a10"/>
<rect x="335.3" y="363.0" width="3.6" height="0.9" fill="#f2ee10"/>
<path d="M333.8,368.2 L343.0,368.2 L343.2,372.3 L339.0,372.6 L337.2,382.8 L331.6,382.8 Z" fill="#1f2aff"/>
<path d="M338.2,370.6 L342.0,370.6 L344.4,386.2 L339.6,386.2 Z" fill="#1f2aff"/>
<path d="M334.8,369.4 L337.8,369.4 L335.8,381.2 L333.0,381.2 Z" fill="#12d6f0"/>
<path d="M339.3,372.0 L341.3,372.0 L342.9,384.0 L340.6,384.0 Z" fill="#12d6f0"/>
<path d="M335.4,371.5 L336.9,371.5 L335.4,379.5 L334.0,379.5 Z" fill="#3ee63a"/>
<path d="M339.9,374.5 L340.9,374.5 L342.0,382 L341.0,382 Z" fill="#3ee63a"/>
<rect x="338.2" y="369.3" width="3.2" height="1.6" fill="#12d6f0"/>
<ellipse cx="335.3" cy="383.6" rx="1.9" ry="1.4" fill="#1f2aff"/>
<ellipse cx="342.3" cy="385.2" rx="1.6" ry="1.3" fill="#1f2aff"/>
<ellipse cx="334.8" cy="390.8" rx="1.3" ry="0.8" fill="#1f2aff"/>
<ellipse cx="333.7" cy="395.0" rx="1.3" ry="0.8" fill="#1f2aff"/>
<ellipse cx="343.2" cy="394.5" rx="2.8" ry="1.7" fill="#1f2aff"/>
<ellipse cx="343.4" cy="394.3" rx="1.6" ry="0.9" fill="#12d6f0"/>
<ellipse cx="337.5" cy="407.2" rx="3.2" ry="6.4" fill="#1f2aff"/>
<ellipse cx="337.6" cy="408.4" rx="2.3" ry="4.4" fill="#12d6f0"/>
<ellipse cx="337.5" cy="409.5" rx="1.7" ry="2.9" fill="#3ee63a"/>
<ellipse cx="337.4" cy="410.0" rx="1.0" ry="1.6" fill="#f2ee10"/>
<ellipse cx="354.6" cy="412.8" rx="1.0" ry="0.8" fill="#6a2aff"/>
</g>
</g>
<defs><linearGradient id="cb" x1="0" y1="0" x2="0" y2="1"><stop offset="0" stop-color="#ff1a1a"/><stop offset="0.18" stop-color="#ff8c00"/><stop offset="0.33" stop-color="#ffee00"/><stop offset="0.5" stop-color="#22dd22"/><stop offset="0.7" stop-color="#00e5ff"/><stop offset="0.85" stop-color="#2222ff"/><stop offset="1" stop-color="#8a20e0"/></linearGradient></defs>
<rect x="395.5" y="355.6" width="5.7" height="87.1" fill="url(#cb)" stroke="none" stroke-width="0.6"/>
<text transform="translate(406.4 402.5) rotate(90)" x="0" y="3.16" font-size="8.9" text-anchor="middle">Luminescence</text>
<text x="337.2" y="460.38" font-size="8.4" text-anchor="middle">RD</text>
<text x="376" y="460.38" font-size="8.4" text-anchor="middle">KD</text>
<line x1="453.4" y1="347.6" x2="453.4" y2="448.6" stroke="#6d6e71" stroke-width="0.75"/>
<line x1="448.6" y1="448.6" x2="453.4" y2="448.6" stroke="#6d6e71" stroke-width="0.75"/>
<text x="445.1" y="451.01" font-size="6.8" text-anchor="end">0</text>
<line x1="448.6" y1="423.35" x2="453.4" y2="423.35" stroke="#6d6e71" stroke-width="0.75"/>
<text x="445.1" y="425.76" font-size="6.8" text-anchor="end">1</text>
<line x1="448.6" y1="398.1" x2="453.4" y2="398.1" stroke="#6d6e71" stroke-width="0.75"/>
<text x="445.1" y="400.51" font-size="6.8" text-anchor="end">2</text>
<line x1="448.6" y1="372.85" x2="453.4" y2="372.85" stroke="#6d6e71" stroke-width="0.75"/>
<text x="445.1" y="375.26" font-size="6.8" text-anchor="end">3</text>
<line x1="448.6" y1="347.6" x2="453.4" y2="347.6" stroke="#6d6e71" stroke-width="0.75"/>
<text x="445.1" y="350.01" font-size="6.8" text-anchor="end">4</text>
<line x1="453.4" y1="448.6" x2="515" y2="448.6" stroke="#6d6e71" stroke-width="0.75"/>
<rect x="465.2" y="376.13" width="17.6" height="72.47" fill="#0b0bb0" stroke="none" stroke-width="0.6"/>
<line x1="474.4" y1="360.23" x2="474.4" y2="392.55" stroke="#231f20" stroke-width="0.6"/>
<line x1="468.2" y1="360.23" x2="480.6" y2="360.23" stroke="#231f20" stroke-width="0.6"/>
<line x1="468.2" y1="392.55" x2="480.6" y2="392.55" stroke="#231f20" stroke-width="0.6"/>
<rect x="471.9" y="353.84" width="5.4" height="5.2" fill="#000" stroke="none" stroke-width="0.6"/>
<rect x="471.9" y="361.41" width="5.4" height="5.2" fill="#000" stroke="none" stroke-width="0.6"/>
<rect x="471.9" y="401.81" width="5.4" height="5.2" fill="#000" stroke="none" stroke-width="0.6"/>
<rect x="490.7" y="446.5" width="4.2" height="4.2" fill="#e6198a" stroke="none" stroke-width="0.6"/>
<rect x="496.6" y="446.5" width="4.2" height="4.2" fill="#e6198a" stroke="none" stroke-width="0.6"/>
<rect x="502.6" y="446.5" width="4.2" height="4.2" fill="#e6198a" stroke="none" stroke-width="0.6"/>
<text x="475.1" y="460.13" font-size="7.7" text-anchor="middle">RD</text>
<text x="497.8" y="460.13" font-size="7.7" text-anchor="middle">KD</text>
<line x1="474.7" y1="349.9" x2="499.6" y2="349.9" stroke="#231f20" stroke-width="0.6"/>
<text x="489.3" y="347.96" font-size="7.2" text-anchor="middle">P = 0.0081</text>
<text transform="translate(430.1 397.4) rotate(-90)" x="0" y="3.1" font-size="8.6" text-anchor="middle">Luminescence units (× 10<tspan font-size="5.5" dy="-3">5</tspan><tspan dy="3">)</tspan></text>
<text x="529.1" y="343.8" font-size="12.0" font-weight="bold" fill="#000" stroke="#000" stroke-width="0.45">l</text>
<line x1="561" y1="342.6" x2="561" y2="450.3" stroke="#6d6e71" stroke-width="0.75"/>
<line x1="555.9" y1="450.3" x2="561" y2="450.3" stroke="#6d6e71" stroke-width="0.75"/>
<text x="552.6" y="452.93" font-size="7.4" text-anchor="end">0</text>
<line x1="555.9" y1="414.4" x2="561" y2="414.4" stroke="#6d6e71" stroke-width="0.75"/>
<text x="552.6" y="417.03" font-size="7.4" text-anchor="end">0.5</text>
<line x1="555.9" y1="378.5" x2="561" y2="378.5" stroke="#6d6e71" stroke-width="0.75"/>
<text x="552.6" y="381.13" font-size="7.4" text-anchor="end">1.0</text>
<line x1="555.9" y1="342.6" x2="561" y2="342.6" stroke="#6d6e71" stroke-width="0.75"/>
<text x="552.6" y="345.23" font-size="7.4" text-anchor="end">1.5</text>
<line x1="561" y1="450.3" x2="672.4" y2="450.3" stroke="#6d6e71" stroke-width="0.75"/>
<line x1="583.4" y1="450.3" x2="583.4" y2="453.1" stroke="#6d6e71" stroke-width="0.75"/>
<line x1="616.7" y1="450.3" x2="616.7" y2="453.1" stroke="#6d6e71" stroke-width="0.75"/>
<line x1="649.9" y1="450.3" x2="649.9" y2="453.1" stroke="#6d6e71" stroke-width="0.75"/>
<rect x="572.5" y="424.09" width="21.8" height="26.21" fill="#ffffff" stroke="#231f20" stroke-width="0.6"/>
<line x1="583.4" y1="420.86" x2="583.4" y2="424.09" stroke="#231f20" stroke-width="0.6"/>
<line x1="580.1" y1="420.86" x2="586.7" y2="420.86" stroke="#231f20" stroke-width="0.6"/>
<line x1="580.1" y1="424.09" x2="586.7" y2="424.09" stroke="#231f20" stroke-width="0.6"/>
<circle cx="580.41" cy="415.63" r="1.75" fill="#000" stroke="none" stroke-width="0.6"/>
<circle cx="586.45" cy="415.63" r="1.75" fill="#000" stroke="none" stroke-width="0.6"/>
<circle cx="574.63" cy="427.19" r="1.75" fill="#000" stroke="none" stroke-width="0.6"/>
<circle cx="579.88" cy="427.98" r="1.75" fill="#000" stroke="none" stroke-width="0.6"/>
<circle cx="585.14" cy="427.98" r="1.75" fill="#000" stroke="none" stroke-width="0.6"/>
<circle cx="591.71" cy="427.98" r="1.75" fill="#000" stroke="none" stroke-width="0.6"/>
<rect x="605.6" y="403.27" width="21.8" height="47.03" fill="#c6daf5" stroke="#231f20" stroke-width="0.6"/>
<line x1="616.5" y1="401.48" x2="616.5" y2="403.27" stroke="#231f20" stroke-width="0.6"/>
<line x1="613.2" y1="401.48" x2="619.8" y2="401.48" stroke="#231f20" stroke-width="0.6"/>
<line x1="613.2" y1="403.27" x2="619.8" y2="403.27" stroke="#231f20" stroke-width="0.6"/>
<circle cx="616.67" cy="397.24" r="1.75" fill="#000" stroke="none" stroke-width="0.6"/>
<circle cx="608.26" cy="403.54" r="1.75" fill="#000" stroke="none" stroke-width="0.6"/>
<circle cx="613.51" cy="403.54" r="1.75" fill="#000" stroke="none" stroke-width="0.6"/>
<circle cx="619.82" cy="404.33" r="1.75" fill="#000" stroke="none" stroke-width="0.6"/>
<circle cx="625.07" cy="406.17" r="1.75" fill="#000" stroke="none" stroke-width="0.6"/>
<rect x="639" y="381.37" width="21.8" height="68.93" fill="#5050f0" stroke="#231f20" stroke-width="0.6"/>
<line x1="649.9" y1="377.78" x2="649.9" y2="381.37" stroke="#231f20" stroke-width="0.6"/>
<line x1="646.6" y1="377.78" x2="653.2" y2="377.78" stroke="#231f20" stroke-width="0.6"/>
<line x1="646.6" y1="381.37" x2="653.2" y2="381.37" stroke="#231f20" stroke-width="0.6"/>
<circle cx="649.51" cy="366.23" r="1.75" fill="#000" stroke="none" stroke-width="0.6"/>
<circle cx="649.51" cy="374.91" r="1.75" fill="#000" stroke="none" stroke-width="0.6"/>
<circle cx="649.51" cy="379.9" r="1.75" fill="#000" stroke="none" stroke-width="0.6"/>
<circle cx="645.57" cy="385.94" r="1.75" fill="#000" stroke="none" stroke-width="0.6"/>
<circle cx="650.82" cy="385.94" r="1.75" fill="#000" stroke="none" stroke-width="0.6"/>
<circle cx="649.51" cy="391.2" r="1.75" fill="#000" stroke="none" stroke-width="0.6"/>
<text x="583.4" y="463.35" font-size="8.6" text-anchor="middle">Control</text>
<text x="616.7" y="464.05" font-size="8.6" text-anchor="middle">0.5</text>
<text x="649.9" y="464.05" font-size="8.6" text-anchor="middle">1</text>
<line x1="583.4" y1="358.9" x2="649.5" y2="358.9" stroke="#a7a9ac" stroke-width="0.9"/>
<text x="618" y="356.53" font-size="7.4" text-anchor="middle"><tspan font-style="italic">P</tspan> &lt; 0.0001</text>
<line x1="583.4" y1="393.2" x2="616.7" y2="393.2" stroke="#58595b" stroke-width="0.6"/>
<text x="600.4" y="389.33" font-size="7.4" text-anchor="middle"><tspan font-style="italic">P</tspan> &lt; 0.0001</text>
<text transform="translate(533.1 399.2) rotate(-90)" x="0" y="3.05" font-size="8.6" text-anchor="middle">Serum βOHB (mM)</text>
<text x="-0.2" y="493" font-size="12.0" font-weight="bold" fill="#000" stroke="#000" stroke-width="0.45">m</text>
<line x1="28.4" y1="498.7" x2="28.4" y2="613.4" stroke="#6d6e71" stroke-width="0.75"/>
<line x1="24.9" y1="613.4" x2="28.4" y2="613.4" stroke="#6d6e71" stroke-width="0.75"/>
<text x="21.15" y="616.03" font-size="7.4" text-anchor="end">0</text>
<line x1="24.9" y1="590.46" x2="28.4" y2="590.46" stroke="#6d6e71" stroke-width="0.75"/>
<text x="21.15" y="593.09" font-size="7.4" text-anchor="end">2</text>
<line x1="24.9" y1="567.52" x2="28.4" y2="567.52" stroke="#6d6e71" stroke-width="0.75"/>
<text x="21.15" y="570.15" font-size="7.4" text-anchor="end">4</text>
<line x1="24.9" y1="544.58" x2="28.4" y2="544.58" stroke="#6d6e71" stroke-width="0.75"/>
<text x="21.15" y="547.21" font-size="7.4" text-anchor="end">6</text>
<line x1="24.9" y1="521.64" x2="28.4" y2="521.64" stroke="#6d6e71" stroke-width="0.75"/>
<text x="21.15" y="524.27" font-size="7.4" text-anchor="end">8</text>
<line x1="24.9" y1="498.7" x2="28.4" y2="498.7" stroke="#6d6e71" stroke-width="0.75"/>
<text x="21.15" y="501.33" font-size="7.4" text-anchor="end">10</text>
<line x1="28.4" y1="613.4" x2="152.1" y2="613.4" stroke="#6d6e71" stroke-width="0.75"/>
<line x1="28.4" y1="613.4" x2="28.4" y2="616.2" stroke="#6d6e71" stroke-width="0.75"/>
<text x="28.4" y="625.83" font-size="7.4" text-anchor="middle">0</text>
<line x1="69.6" y1="613.4" x2="69.6" y2="616.2" stroke="#6d6e71" stroke-width="0.75"/>
<text x="69.6" y="625.83" font-size="7.4" text-anchor="middle">2</text>
<line x1="110.8" y1="613.4" x2="110.8" y2="616.2" stroke="#6d6e71" stroke-width="0.75"/>
<text x="110.8" y="625.83" font-size="7.4" text-anchor="middle">4</text>
<line x1="152" y1="613.4" x2="152" y2="616.2" stroke="#6d6e71" stroke-width="0.75"/>
<text x="152" y="625.83" font-size="7.4" text-anchor="middle">6</text>
<polygon points="28.4,613.4 90.2,610.53 131.4,566.37 152,530.24 152,557.77 131.4,587.02 90.2,612.02 28.4,613.4" fill="#c5d9f3" stroke="none" stroke-width="0.5"/>
<polygon points="28.4,613.4 90.2,612.02 131.4,587.02 152,557.77 152,569.24 131.4,590.46 90.2,612.25 28.4,613.4" fill="#fad0dc" stroke="none" stroke-width="0.5"/>
<polygon points="28.4,613.4 90.2,612.25 131.4,590.46 152,569.24 152,613.4 28.4,613.4" fill="#fb5a8e" stroke="none" stroke-width="0.5"/>
<polyline points="28.4,613.4 90.2,610.53 131.4,566.37 152,530.24" fill="none" stroke="#2222cc" stroke-width="0.7"/>
<polyline points="28.4,613.4 90.2,612.02 131.4,587.02 152,557.77" fill="none" stroke="#f7a540" stroke-width="0.7"/>
<polyline points="28.4,613.4 90.2,612.25 131.4,590.46 152,569.24" fill="none" stroke="#ee1155" stroke-width="0.7"/>
<line x1="131.4" y1="559.49" x2="131.4" y2="573.25" stroke="#3a3a3a" stroke-width="0.7"/>
<line x1="129.2" y1="559.49" x2="133.6" y2="559.49" stroke="#3a3a3a" stroke-width="0.7"/>
<line x1="129.2" y1="573.25" x2="133.6" y2="573.25" stroke="#3a3a3a" stroke-width="0.7"/>
<line x1="152" y1="515.9" x2="152" y2="544.58" stroke="#3a3a3a" stroke-width="0.7"/>
<line x1="149.8" y1="515.9" x2="154.2" y2="515.9" stroke="#3a3a3a" stroke-width="0.7"/>
<line x1="149.8" y1="544.58" x2="154.2" y2="544.58" stroke="#3a3a3a" stroke-width="0.7"/>
<line x1="131.4" y1="583" x2="131.4" y2="591.03" stroke="#3a3a3a" stroke-width="0.7"/>
<line x1="129.2" y1="583" x2="133.6" y2="583" stroke="#3a3a3a" stroke-width="0.7"/>
<line x1="129.2" y1="591.03" x2="133.6" y2="591.03" stroke="#3a3a3a" stroke-width="0.7"/>
<line x1="152" y1="550.89" x2="152" y2="564.65" stroke="#3a3a3a" stroke-width="0.7"/>
<line x1="149.8" y1="550.89" x2="154.2" y2="550.89" stroke="#3a3a3a" stroke-width="0.7"/>
<line x1="149.8" y1="564.65" x2="154.2" y2="564.65" stroke="#3a3a3a" stroke-width="0.7"/>
<line x1="131.4" y1="587.02" x2="131.4" y2="595.05" stroke="#3a3a3a" stroke-width="0.7"/>
<line x1="129.2" y1="587.02" x2="133.6" y2="587.02" stroke="#3a3a3a" stroke-width="0.7"/>
<line x1="129.2" y1="595.05" x2="133.6" y2="595.05" stroke="#3a3a3a" stroke-width="0.7"/>
<line x1="152" y1="562.36" x2="152" y2="578.42" stroke="#3a3a3a" stroke-width="0.7"/>
<line x1="149.8" y1="562.36" x2="154.2" y2="562.36" stroke="#3a3a3a" stroke-width="0.7"/>
<line x1="149.8" y1="578.42" x2="154.2" y2="578.42" stroke="#3a3a3a" stroke-width="0.7"/>
<ellipse cx="90.2" cy="610.53" rx="2.8" ry="2.3" fill="#1212c8"/>
<ellipse cx="131.4" cy="566.37" rx="2.8" ry="2.3" fill="#1212c8"/>
<ellipse cx="152" cy="530.24" rx="2.8" ry="2.3" fill="#1212c8"/>
<circle cx="28.4" cy="613.4" r="2.3" fill="none" stroke="#1a1ac8" stroke-width="0.6"/>
<line x1="26.1" y1="613.4" x2="30.7" y2="613.4" stroke="#1a1ac8" stroke-width="0.6"/>
<rect x="87.6" y="609.82" width="5.2" height="4.4" fill="#f7a030" stroke="none" stroke-width="0.6"/>
<rect x="128.8" y="584.82" width="5.2" height="4.4" fill="#f7a030" stroke="none" stroke-width="0.6"/>
<rect x="149.4" y="555.57" width="5.2" height="4.4" fill="#f7a030" stroke="none" stroke-width="0.6"/>
<polygon points="87.4,614.49 93,614.49 90.2,609.73" fill="#f01050" stroke="none" stroke-width="0.5"/>
<polygon points="128.6,592.7 134.2,592.7 131.4,587.94" fill="#f01050" stroke="none" stroke-width="0.5"/>
<polygon points="149.2,571.48 154.8,571.48 152,566.72" fill="#f01050" stroke="none" stroke-width="0.5"/>
<line x1="32" y1="502.1" x2="44" y2="502.1" stroke="#2222cc" stroke-width="0.6"/>
<circle cx="38.1" cy="502.1" r="2.3" fill="#1a1ac8" stroke="none" stroke-width="0.6"/>
<line x1="32" y1="513.1" x2="44" y2="513.1" stroke="#f7a540" stroke-width="0.6"/>
<rect x="35.8" y="510.8" width="4.6" height="4.6" fill="#f7a540" stroke="none" stroke-width="0.6"/>
<line x1="32" y1="524.5" x2="44" y2="524.5" stroke="#ee1155" stroke-width="0.6"/>
<polygon points="35.6,526.5 40.6,526.5 38.1,522.25" fill="#ee1155" stroke="none" stroke-width="0.5"/>
<text x="48.2" y="504.73" font-size="7.4" text-anchor="start">Control</text>
<text x="48.2" y="515.73" font-size="7.4" text-anchor="start">0.5 mM βOHB pump</text>
<text x="48.2" y="527.13" font-size="7.4" text-anchor="start">1 mM βOHB pump</text>
<text x="91.5" y="635.9" font-size="9" text-anchor="middle">Days post infection</text>
<text transform="translate(5.7 554.9) rotate(-90)" x="0" y="3.19" font-size="9" text-anchor="middle">Parasitemia (%)</text>
<text x="167.5" y="492.6" font-size="12.0" font-weight="bold" fill="#000" stroke="#000" stroke-width="0.45">n</text>
<line x1="199.3" y1="498.8" x2="199.3" y2="613.5" stroke="#6d6e71" stroke-width="0.75"/>
<line x1="194.1" y1="613.5" x2="199.3" y2="613.5" stroke="#6d6e71" stroke-width="0.75"/>
<text x="190.8" y="616.13" font-size="7.4" text-anchor="end">0</text>
<line x1="194.1" y1="584.83" x2="199.3" y2="584.83" stroke="#6d6e71" stroke-width="0.75"/>
<text x="190.8" y="587.45" font-size="7.4" text-anchor="end">25</text>
<line x1="194.1" y1="556.15" x2="199.3" y2="556.15" stroke="#6d6e71" stroke-width="0.75"/>
<text x="190.8" y="558.78" font-size="7.4" text-anchor="end">50</text>
<line x1="194.1" y1="527.48" x2="199.3" y2="527.48" stroke="#6d6e71" stroke-width="0.75"/>
<text x="190.8" y="530.1" font-size="7.4" text-anchor="end">75</text>
<line x1="194.1" y1="498.8" x2="199.3" y2="498.8" stroke="#6d6e71" stroke-width="0.75"/>
<text x="190.8" y="501.43" font-size="7.4" text-anchor="end">100</text>
<line x1="199.3" y1="613.5" x2="346.7" y2="613.5" stroke="#6d6e71" stroke-width="0.75"/>
<line x1="199.3" y1="613.5" x2="199.3" y2="616.3" stroke="#6d6e71" stroke-width="0.75"/>
<text x="199.3" y="625.63" font-size="7.4" text-anchor="middle">0</text>
<line x1="236.15" y1="613.5" x2="236.15" y2="616.3" stroke="#6d6e71" stroke-width="0.75"/>
<text x="236.15" y="625.63" font-size="7.4" text-anchor="middle">5</text>
<line x1="273" y1="613.5" x2="273" y2="616.3" stroke="#6d6e71" stroke-width="0.75"/>
<text x="273" y="625.63" font-size="7.4" text-anchor="middle">10</text>
<line x1="309.85" y1="613.5" x2="309.85" y2="616.3" stroke="#6d6e71" stroke-width="0.75"/>
<text x="309.85" y="625.63" font-size="7.4" text-anchor="middle">15</text>
<line x1="346.7" y1="613.5" x2="346.7" y2="616.3" stroke="#6d6e71" stroke-width="0.75"/>
<text x="346.7" y="625.63" font-size="7.4" text-anchor="middle">20</text>
<line x1="217.73" y1="613.5" x2="217.73" y2="615" stroke="#6d6e71" stroke-width="0.75"/>
<line x1="254.58" y1="613.5" x2="254.58" y2="615" stroke="#6d6e71" stroke-width="0.75"/>
<line x1="291.43" y1="613.5" x2="291.43" y2="615" stroke="#6d6e71" stroke-width="0.75"/>
<line x1="328.27" y1="613.5" x2="328.27" y2="615" stroke="#6d6e71" stroke-width="0.75"/>
<polyline points="199.3,498.8 258.26,498.8 258.26,521.74 287.74,521.74 287.74,544.68 310.59,544.68 310.59,590.56 325.33,590.56 325.33,613.5" fill="none" stroke="#f8c49a" stroke-width="0.8"/>
<polyline points="199.3,498.8 265.63,498.8 265.63,521.74 325.33,521.74 325.33,567.62 339.33,567.62 339.33,613.5" fill="none" stroke="#f25c5c" stroke-width="0.8"/>
<polyline points="199.3,498.8 250.89,498.8 250.89,521.74 258.26,521.74 258.26,613.5" fill="none" stroke="#1616e6" stroke-width="1.3" stroke-dasharray="2.4,1.5"/>
<rect x="255.36" y="518.84" width="5.8" height="5.8" fill="#f5b07a" stroke="none" stroke-width="0.6"/>
<rect x="284.84" y="541.78" width="5.8" height="5.8" fill="#f5b07a" stroke="none" stroke-width="0.6"/>
<rect x="307.69" y="587.66" width="5.8" height="5.8" fill="#f5b07a" stroke="none" stroke-width="0.6"/>
<rect x="322.43" y="610.6" width="5.8" height="5.8" fill="#f5b07a" stroke="none" stroke-width="0.6"/>
<line x1="258.26" y1="519.74" x2="258.26" y2="524.74" stroke="#1616e6" stroke-width="1.3" stroke-dasharray="2.4,1.5"/>
<polygon points="262.53,523.92 268.73,523.92 265.63,518.65" fill="#f0333f" stroke="none" stroke-width="0.5"/>
<polygon points="322.23,569.8 328.43,569.8 325.33,564.53" fill="#f0333f" stroke="none" stroke-width="0.5"/>
<polygon points="336.23,615.68 342.43,615.68 339.33,610.41" fill="#f0333f" stroke="none" stroke-width="0.5"/>
<circle cx="250.89" cy="521.74" r="2.8" fill="#1212e8" stroke="none" stroke-width="0.6"/>
<circle cx="258.26" cy="613.5" r="2.8" fill="#1212e8" stroke="none" stroke-width="0.6"/>
<polygon points="248.1,490 254.9,490 251.5,497.5" fill="#000" stroke="none" stroke-width="0.5"/>
<line x1="207.6" y1="545" x2="207.6" y2="558" stroke="#f7b3c8" stroke-width="0.7"/>
<line x1="223.9" y1="545" x2="223.9" y2="558" stroke="#f9cfa8" stroke-width="0.7"/>
<line x1="251.2" y1="545" x2="251.2" y2="558" stroke="#b9b9f0" stroke-width="0.7"/>
<polygon points="205,547.9 205,554.1 210.9,551" fill="#f0194a" stroke="none" stroke-width="0.5"/>
<rect x="221" y="548.1" width="5.8" height="5.8" fill="#f7a03a" stroke="none" stroke-width="0.6"/>
<circle cx="251.2" cy="550.7" r="2.8" fill="#0a0aa0" stroke="none" stroke-width="0.6"/>
<line x1="207.3" y1="531.5" x2="207.3" y2="543.5" stroke="#6d6e71" stroke-width="0.6"/>
<line x1="251.9" y1="531.5" x2="251.9" y2="541.4" stroke="#6d6e71" stroke-width="0.6"/>
<line x1="207.3" y1="531.5" x2="251.9" y2="531.5" stroke="#6d6e71" stroke-width="0.6"/>
<line x1="224.2" y1="541.4" x2="251.9" y2="541.4" stroke="#6d6e71" stroke-width="0.6"/>
<line x1="224.2" y1="541.4" x2="224.2" y2="544" stroke="#6d6e71" stroke-width="0.6"/>
<text x="227" y="529.5" font-size="7.6" text-anchor="middle"><tspan font-style="italic">P</tspan> &lt; 0.0001</text>
<text x="229.4" y="540" font-size="7.6" text-anchor="middle"><tspan font-style="italic">P</tspan> = 0.0004</text>
<text transform="translate(207.6 559.5) rotate(90)" x="0" y="2.56" font-size="7.2" text-anchor="start">1.0 mM βOHB</text>
<text transform="translate(224.1 559.5) rotate(90)" x="0" y="2.56" font-size="7.2" text-anchor="start">0.5 mM βOHB</text>
<text transform="translate(251.1 559.5) rotate(90)" x="0" y="2.56" font-size="7.2" text-anchor="start">Control</text>
<text x="273" y="634.8" font-size="9" text-anchor="middle">Days post infection</text>
<text transform="translate(171.8 556) rotate(-90)" x="0" y="3.19" font-size="9" text-anchor="middle">Percent survival</text>
<text x="364.1" y="492.5" font-size="12.0" font-weight="bold" fill="#000" stroke="#000" stroke-width="0.45">o</text>
<line x1="389.6" y1="498.2" x2="389.6" y2="614.2" stroke="#6d6e71" stroke-width="0.75"/>
<line x1="386.5" y1="614.2" x2="389.6" y2="614.2" stroke="#6d6e71" stroke-width="0.75"/>
<text x="382.3" y="616.83" font-size="7.4" text-anchor="end">0</text>
<line x1="386.5" y1="591" x2="389.6" y2="591" stroke="#6d6e71" stroke-width="0.75"/>
<text x="382.3" y="593.63" font-size="7.4" text-anchor="end">1</text>
<line x1="386.5" y1="567.8" x2="389.6" y2="567.8" stroke="#6d6e71" stroke-width="0.75"/>
<text x="382.3" y="570.43" font-size="7.4" text-anchor="end">2</text>
<line x1="386.5" y1="544.6" x2="389.6" y2="544.6" stroke="#6d6e71" stroke-width="0.75"/>
<text x="382.3" y="547.23" font-size="7.4" text-anchor="end">3</text>
<line x1="386.5" y1="521.4" x2="389.6" y2="521.4" stroke="#6d6e71" stroke-width="0.75"/>
<text x="382.3" y="524.03" font-size="7.4" text-anchor="end">4</text>
<line x1="386.5" y1="498.2" x2="389.6" y2="498.2" stroke="#6d6e71" stroke-width="0.75"/>
<text x="382.3" y="500.83" font-size="7.4" text-anchor="end">5</text>
<line x1="389.6" y1="614.2" x2="512.5" y2="614.2" stroke="#6d6e71" stroke-width="0.75"/>
<line x1="389.6" y1="614.2" x2="389.6" y2="617" stroke="#6d6e71" stroke-width="0.75"/>
<text x="389.6" y="625.83" font-size="7.4" text-anchor="middle">0</text>
<line x1="414.09" y1="614.2" x2="414.09" y2="617" stroke="#6d6e71" stroke-width="0.75"/>
<text x="414.09" y="625.83" font-size="7.4" text-anchor="middle">5</text>
<line x1="438.57" y1="614.2" x2="438.57" y2="617" stroke="#6d6e71" stroke-width="0.75"/>
<text x="438.57" y="625.83" font-size="7.4" text-anchor="middle">10</text>
<line x1="463.06" y1="614.2" x2="463.06" y2="617" stroke="#6d6e71" stroke-width="0.75"/>
<text x="463.06" y="625.83" font-size="7.4" text-anchor="middle">15</text>
<line x1="487.54" y1="614.2" x2="487.54" y2="617" stroke="#6d6e71" stroke-width="0.75"/>
<text x="487.54" y="625.83" font-size="7.4" text-anchor="middle">20</text>
<line x1="512.03" y1="614.2" x2="512.03" y2="617" stroke="#6d6e71" stroke-width="0.75"/>
<text x="512.03" y="625.83" font-size="7.4" text-anchor="middle">25</text>
<polyline points="389.6,516.76 399.39,519.78 409.19,529.29 428.78,576.38 438.57,578.7 448.36,590.54 458.16,603.76 467.95,610.02 487.54,613.5 512.03,613.5" fill="none" stroke="#231f20" stroke-width="0.6"/>
<line x1="389.6" y1="514.44" x2="389.6" y2="519.08" stroke="#231f20" stroke-width="0.5"/>
<line x1="388.1" y1="514.44" x2="391.1" y2="514.44" stroke="#231f20" stroke-width="0.5"/>
<line x1="388.1" y1="519.08" x2="391.1" y2="519.08" stroke="#231f20" stroke-width="0.5"/>
<circle cx="389.6" cy="516.76" r="2.2" fill="#000" stroke="none" stroke-width="0.6"/>
<line x1="399.39" y1="518.62" x2="399.39" y2="520.94" stroke="#231f20" stroke-width="0.5"/>
<line x1="397.89" y1="518.62" x2="400.89" y2="518.62" stroke="#231f20" stroke-width="0.5"/>
<line x1="397.89" y1="520.94" x2="400.89" y2="520.94" stroke="#231f20" stroke-width="0.5"/>
<circle cx="399.39" cy="519.78" r="2.2" fill="#000" stroke="none" stroke-width="0.6"/>
<line x1="409.19" y1="524.65" x2="409.19" y2="533.93" stroke="#231f20" stroke-width="0.5"/>
<line x1="407.69" y1="524.65" x2="410.69" y2="524.65" stroke="#231f20" stroke-width="0.5"/>
<line x1="407.69" y1="533.93" x2="410.69" y2="533.93" stroke="#231f20" stroke-width="0.5"/>
<circle cx="409.19" cy="529.29" r="2.2" fill="#000" stroke="none" stroke-width="0.6"/>
<line x1="428.78" y1="574.06" x2="428.78" y2="578.7" stroke="#231f20" stroke-width="0.5"/>
<line x1="427.28" y1="574.06" x2="430.28" y2="574.06" stroke="#231f20" stroke-width="0.5"/>
<line x1="427.28" y1="578.7" x2="430.28" y2="578.7" stroke="#231f20" stroke-width="0.5"/>
<circle cx="428.78" cy="576.38" r="2.2" fill="#000" stroke="none" stroke-width="0.6"/>
<line x1="438.57" y1="575.22" x2="438.57" y2="582.18" stroke="#231f20" stroke-width="0.5"/>
<line x1="437.07" y1="575.22" x2="440.07" y2="575.22" stroke="#231f20" stroke-width="0.5"/>
<line x1="437.07" y1="582.18" x2="440.07" y2="582.18" stroke="#231f20" stroke-width="0.5"/>
<circle cx="438.57" cy="578.7" r="2.2" fill="#000" stroke="none" stroke-width="0.6"/>
<line x1="448.36" y1="589.38" x2="448.36" y2="591.7" stroke="#231f20" stroke-width="0.5"/>
<line x1="446.86" y1="589.38" x2="449.86" y2="589.38" stroke="#231f20" stroke-width="0.5"/>
<line x1="446.86" y1="591.7" x2="449.86" y2="591.7" stroke="#231f20" stroke-width="0.5"/>
<circle cx="448.36" cy="590.54" r="2.2" fill="#000" stroke="none" stroke-width="0.6"/>
<line x1="458.16" y1="602.6" x2="458.16" y2="604.92" stroke="#231f20" stroke-width="0.5"/>
<line x1="456.66" y1="602.6" x2="459.66" y2="602.6" stroke="#231f20" stroke-width="0.5"/>
<line x1="456.66" y1="604.92" x2="459.66" y2="604.92" stroke="#231f20" stroke-width="0.5"/>
<circle cx="458.16" cy="603.76" r="2.2" fill="#000" stroke="none" stroke-width="0.6"/>
<line x1="467.95" y1="609.33" x2="467.95" y2="610.72" stroke="#231f20" stroke-width="0.5"/>
<line x1="466.45" y1="609.33" x2="469.45" y2="609.33" stroke="#231f20" stroke-width="0.5"/>
<line x1="466.45" y1="610.72" x2="469.45" y2="610.72" stroke="#231f20" stroke-width="0.5"/>
<circle cx="467.95" cy="610.02" r="2.2" fill="#000" stroke="none" stroke-width="0.6"/>
<circle cx="487.54" cy="613.5" r="2.2" fill="#000" stroke="none" stroke-width="0.6"/>
<circle cx="512.03" cy="613.5" r="2.2" fill="#000" stroke="none" stroke-width="0.6"/>
<text x="395.8" y="509.03" font-size="7.4" text-anchor="start">βOHB</text>
<text x="453.2" y="638" font-size="9" text-anchor="middle">Concentration (mM)</text>
<text transform="translate(368.7 558.8) rotate(-90)" x="0" y="3.19" font-size="9" text-anchor="middle">Parasitemia (%)</text>
<text x="520.1" y="492.5" font-size="12.0" font-weight="bold" fill="#000" stroke="#000" stroke-width="0.45">p</text>
<line x1="554.6" y1="496.4" x2="554.6" y2="613.7" stroke="#6d6e71" stroke-width="0.75"/>
<line x1="551.2" y1="613.7" x2="554.6" y2="613.7" stroke="#6d6e71" stroke-width="0.75"/>
<text x="547" y="616.33" font-size="7.4" text-anchor="end">0</text>
<line x1="551.2" y1="590.24" x2="554.6" y2="590.24" stroke="#6d6e71" stroke-width="0.75"/>
<text x="547" y="592.87" font-size="7.4" text-anchor="end">20</text>
<line x1="551.2" y1="566.78" x2="554.6" y2="566.78" stroke="#6d6e71" stroke-width="0.75"/>
<text x="547" y="569.41" font-size="7.4" text-anchor="end">40</text>
<line x1="551.2" y1="543.32" x2="554.6" y2="543.32" stroke="#6d6e71" stroke-width="0.75"/>
<text x="547" y="545.95" font-size="7.4" text-anchor="end">60</text>
<line x1="551.2" y1="519.86" x2="554.6" y2="519.86" stroke="#6d6e71" stroke-width="0.75"/>
<text x="547" y="522.49" font-size="7.4" text-anchor="end">80</text>
<line x1="551.2" y1="496.4" x2="554.6" y2="496.4" stroke="#6d6e71" stroke-width="0.75"/>
<text x="547" y="499.03" font-size="7.4" text-anchor="end">100</text>
<line x1="554.6" y1="613.7" x2="680.2" y2="613.7" stroke="#6d6e71" stroke-width="0.75"/>
<line x1="554.6" y1="613.7" x2="554.6" y2="616.5" stroke="#6d6e71" stroke-width="0.75"/>
<text x="554.6" y="625.83" font-size="7.4" text-anchor="middle">0.2</text>
<line x1="575.52" y1="613.7" x2="575.52" y2="616.5" stroke="#6d6e71" stroke-width="0.75"/>
<text x="575.52" y="625.83" font-size="7.4" text-anchor="middle">0.4</text>
<line x1="596.44" y1="613.7" x2="596.44" y2="616.5" stroke="#6d6e71" stroke-width="0.75"/>
<text x="596.44" y="625.83" font-size="7.4" text-anchor="middle">0.6</text>
<line x1="617.36" y1="613.7" x2="617.36" y2="616.5" stroke="#6d6e71" stroke-width="0.75"/>
<text x="617.36" y="625.83" font-size="7.4" text-anchor="middle">0.8</text>
<line x1="638.28" y1="613.7" x2="638.28" y2="616.5" stroke="#6d6e71" stroke-width="0.75"/>
<text x="638.28" y="625.83" font-size="7.4" text-anchor="middle">1.0</text>
<line x1="659.2" y1="613.7" x2="659.2" y2="616.5" stroke="#6d6e71" stroke-width="0.75"/>
<text x="659.2" y="625.83" font-size="7.4" text-anchor="middle">1.2</text>
<line x1="680.12" y1="613.7" x2="680.12" y2="616.5" stroke="#6d6e71" stroke-width="0.75"/>
<text x="680.12" y="625.83" font-size="7.4" text-anchor="middle">1.4</text>
<polyline points="565.06,611.32 567.15,610.98 569.24,610.59 571.34,610.14 573.43,609.63 575.52,609.05 577.61,608.39 579.7,607.65 581.8,606.8 583.89,605.85 585.98,604.77 588.07,603.57 590.16,602.21 592.26,600.7 594.35,599.01 596.44,597.14 598.53,595.08 600.62,592.81 602.72,590.33 604.81,587.64 606.9,584.73 608.99,581.62 611.08,578.3 613.18,574.79 615.27,571.12 617.36,567.31 619.45,563.38 621.54,559.38 623.64,555.34 625.73,551.29 627.82,547.28 629.91,543.34 632,539.51 634.1,535.82 636.19,532.29 638.28,528.94 640.37,525.79 642.46,522.86 644.56,520.13 646.65,517.63 648.74,515.33 650.83,513.24 652.92,511.34 655.02,509.63 657.11,508.09 659.2,506.72 661.29,505.49 663.38,504.4 665.48,503.43 667.57,502.57 669.66,501.81 671.75,501.14 673.84,500.55 675.94,500.03 678.03,499.57 680.12,499.17" fill="none" stroke="#231f20" stroke-width="0.6"/>
<circle cx="565.06" cy="607.84" r="2.2" fill="#000" stroke="none" stroke-width="0.6"/>
<line x1="596.44" y1="589.65" x2="596.44" y2="601.38" stroke="#231f20" stroke-width="0.5"/>
<line x1="594.94" y1="589.65" x2="597.94" y2="589.65" stroke="#231f20" stroke-width="0.5"/>
<line x1="594.94" y1="601.38" x2="597.94" y2="601.38" stroke="#231f20" stroke-width="0.5"/>
<circle cx="596.44" cy="595.52" r="2.2" fill="#000" stroke="none" stroke-width="0.6"/>
<line x1="627.82" y1="536.28" x2="627.82" y2="545.67" stroke="#231f20" stroke-width="0.5"/>
<line x1="626.32" y1="536.28" x2="629.32" y2="536.28" stroke="#231f20" stroke-width="0.5"/>
<line x1="626.32" y1="545.67" x2="629.32" y2="545.67" stroke="#231f20" stroke-width="0.5"/>
<circle cx="627.82" cy="540.97" r="2.2" fill="#000" stroke="none" stroke-width="0.6"/>
<line x1="638.28" y1="531.59" x2="638.28" y2="545.67" stroke="#231f20" stroke-width="0.5"/>
<line x1="636.78" y1="531.59" x2="639.78" y2="531.59" stroke="#231f20" stroke-width="0.5"/>
<line x1="636.78" y1="545.67" x2="639.78" y2="545.67" stroke="#231f20" stroke-width="0.5"/>
<circle cx="638.28" cy="538.63" r="2.2" fill="#000" stroke="none" stroke-width="0.6"/>
<line x1="646.65" y1="521.62" x2="646.65" y2="528.66" stroke="#231f20" stroke-width="0.5"/>
<line x1="645.15" y1="521.62" x2="648.15" y2="521.62" stroke="#231f20" stroke-width="0.5"/>
<line x1="645.15" y1="528.66" x2="648.15" y2="528.66" stroke="#231f20" stroke-width="0.5"/>
<circle cx="646.65" cy="525.14" r="2.2" fill="#000" stroke="none" stroke-width="0.6"/>
<circle cx="653.97" cy="508.72" r="2.2" fill="#000" stroke="none" stroke-width="0.6"/>
<line x1="659.2" y1="499.33" x2="659.2" y2="504.02" stroke="#231f20" stroke-width="0.5"/>
<line x1="657.7" y1="499.33" x2="660.7" y2="499.33" stroke="#231f20" stroke-width="0.5"/>
<line x1="657.7" y1="504.02" x2="660.7" y2="504.02" stroke="#231f20" stroke-width="0.5"/>
<circle cx="659.2" cy="501.68" r="2.2" fill="#000" stroke="none" stroke-width="0.6"/>
<circle cx="669.66" cy="496.99" r="2.2" fill="#000" stroke="none" stroke-width="0.6"/>
<circle cx="680.12" cy="496.99" r="2.2" fill="#000" stroke="none" stroke-width="0.6"/>
<text x="559.7" y="509.03" font-size="7.4" text-anchor="start">βOHB</text>
<text x="614.4" y="586.6" font-size="7.4">IC<tspan font-size="4.6" dy="1.5">50</tspan><tspan dy="-1.5"> = 7.268 mM</tspan></text>
<text x="617" y="638" font-size="9" text-anchor="middle">log (× Concentration, mM)</text>
<text transform="translate(527.5 554.9) rotate(-90)" x="0" y="3.19" font-size="9" text-anchor="middle">Inhibition rate (%)</text>
</g>
</svg>
</body></html>
